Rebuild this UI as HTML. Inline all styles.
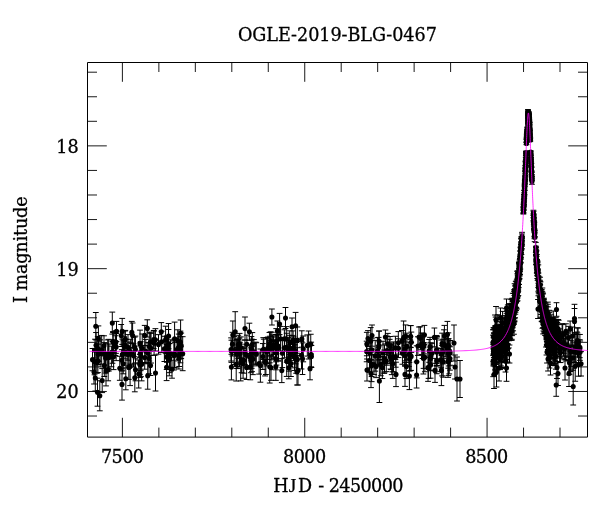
<!DOCTYPE html>
<html lang="en"><head><meta charset="utf-8"><title>OGLE-2019-BLG-0467</title>
<style>html,body{margin:0;padding:0;background:#fff}svg{display:block}</style></head>
<body><svg width="600" height="512" viewBox="0 0 600 512">
<rect width="600" height="512" fill="#fff"/>
<path d="M87.5 62.5H587.5V437.1H87.5Z" fill="none" stroke="#000" stroke-width="1"/>
<path d="M95.8 312.5V339.9M92.9 312.5H98.7M92.9 339.9H98.7M112.3 312.1V334.1M109.4 312.1H115.2M109.4 334.1H115.2M98.4 325.9V350.9M95.5 325.9H101.3M95.5 350.9H101.3M116.5 321.4V341.4M113.6 321.4H119.4M113.6 341.4H119.4M122.2 318.4V344.4M119.3 318.4H125.1M119.3 344.4H125.1M121.2 324.5V346.5M118.3 324.5H124.1M118.3 346.5H124.1M125.3 330.4V348.4M122.4 330.4H128.2M122.4 348.4H128.2M131.8 321.4V343.4M128.9 321.4H134.7M128.9 343.4H134.7M132.6 323V348.2M129.7 323H135.5M129.7 348.2H135.5M113 331.6V351.6M110.1 331.6H115.9M110.1 351.6H115.9M147.3 319.8V337M144.4 319.8H150.2M144.4 337H150.2M144.7 325.4V345.4M141.8 325.4H147.6M141.8 345.4H147.6M161.3 322.6V341M158.4 322.6H164.2M158.4 341H164.2M165.6 326.2V353.2M162.7 326.2H168.5M162.7 353.2H168.5M174.6 322.1V355.3M171.7 322.1H177.5M171.7 355.3H177.5M180.6 320V346.6M177.7 320H183.5M177.7 346.6H183.5M177.8 329.8V351.8M174.9 329.8H180.7M174.9 351.8H180.7M182.7 336.7V370.7M179.8 336.7H185.6M179.8 370.7H185.6M178.9 347V369M176 347H181.8M176 369H181.8M172 360.2V378.2M169.1 360.2H174.9M169.1 378.2H174.9M166.6 353.8V380.6M163.7 353.8H169.5M163.7 380.6H169.5M155.5 355V391M152.6 355H158.4M152.6 391H158.4M147.7 362.4V389.2M144.8 362.4H150.6M144.8 389.2H150.6M150.5 355.5V375.5M147.6 355.5H153.4M147.6 375.5H153.4M139.8 354.4V374.4M136.9 354.4H142.7M136.9 374.4H142.7M135.5 358.8V380.8M132.6 358.8H138.4M132.6 380.8H138.4M134.8 363.8V391.8M131.9 363.8H137.7M131.9 391.8H137.7M138.7 360V388M135.8 360H141.6M135.8 388H141.6M130.1 347.6V385.6M127.2 347.6H133M127.2 385.6H133M125.8 367.8V389.8M122.9 367.8H128.7M122.9 389.8H128.7M122 368.7V400.1M119.1 368.7H124.9M119.1 400.1H124.9M119.8 356.3V380.3M116.9 356.3H122.7M116.9 380.3H122.7M123.2 353.8V373.8M120.3 353.8H126.1M120.3 373.8H126.1M108.2 358.8V380.8M105.3 358.8H111.1M105.3 380.8H111.1M106 355.9V385.9M103.1 355.9H108.9M103.1 385.9H108.9M102.2 368.6V392.6M99.3 368.6H105.1M99.3 392.6H105.1M95.3 365V391M92.4 365H98.2M92.4 391H98.2M94 360V384M91.1 360H96.9M91.1 384H96.9M97.5 378.2V406.2M94.6 378.2H100.4M94.6 406.2H100.4M99.8 380.8V410.8M96.9 380.8H102.7M96.9 410.8H102.7M96.8 351.3V373.3M93.9 351.3H99.7M93.9 373.3H99.7M104.3 354.5V376.5M101.4 354.5H107.2M101.4 376.5H107.2M231.4 354.3V379.9M228.5 354.3H234.3M228.5 379.9H234.3M232.8 321V349M229.9 321H235.7M229.9 349H235.7M235.2 311.7V351.7M232.3 311.7H238.1M232.3 351.7H238.1M245 317V340.2M242.1 317H247.9M242.1 340.2H247.9M249.4 323.2V340.2M246.5 323.2H252.3M246.5 340.2H252.3M271.9 309V325M269 309H274.8M269 325H274.8M279.6 313.4V334.6M276.7 313.4H282.5M276.7 334.6H282.5M285.5 307.5V328.5M282.6 307.5H288.4M282.6 328.5H288.4M277.4 321V341M274.5 321H280.3M274.5 341H280.3M292 318V335.4M289.1 318H294.9M289.1 335.4H294.9M295.6 312.4V339.2M292.7 312.4H298.5M292.7 339.2H298.5M301.8 330.8V347.2M298.9 330.8H304.7M298.9 347.2H304.7M308.6 331V359M305.7 331H311.5M305.7 359H311.5M311.4 345.5V367.5M308.5 345.5H314.3M308.5 367.5H314.3M310 357.8V379.8M307.1 357.8H312.9M307.1 379.8H312.9M298 355.4V385M295.1 355.4H300.9M295.1 385H300.9M297 359V385M294.1 359H299.9M294.1 385H299.9M281.8 358.6V382.6M278.9 358.6H284.7M278.9 382.6H284.7M288.8 356.8V378.8M285.9 356.8H291.7M285.9 378.8H291.7M271 355.3V380.3M268.1 355.3H273.9M268.1 380.3H273.9M265.9 350.5V374.5M263 350.5H268.8M263 374.5H268.8M260.4 349V382.2M257.5 349H263.3M257.5 382.2H263.3M246.6 355.5V379.5M243.7 355.5H249.5M243.7 379.5H249.5M240.7 344.1V380.9M237.8 344.1H243.6M237.8 380.9H243.6M250.3 354.2V379.8M247.4 354.2H253.2M247.4 379.8H253.2M367 359V381M364.1 359H369.9M364.1 381H369.9M368 330.6V346.6M365.1 330.6H370.9M365.1 346.6H370.9M372 325V346.2M369.1 325H374.9M369.1 346.2H374.9M371 359.6V387.6M368.1 359.6H373.9M368.1 387.6H373.9M374 354.6V374.6M371.1 354.6H376.9M371.1 374.6H376.9M379.4 359.5V402.5M376.5 359.5H382.3M376.5 402.5H382.3M385.4 330V344M382.5 330H388.3M382.5 344H388.3M396 362.2V386.6M393.1 362.2H398.9M393.1 386.6H398.9M403.6 321V355M400.7 321H406.5M400.7 355H406.5M410.6 325.6V347.6M407.7 325.6H413.5M407.7 347.6H413.5M405 362.4V386.4M402.1 362.4H407.9M402.1 386.4H407.9M409.4 362.4V389.6M406.5 362.4H412.3M406.5 389.6H412.3M416.6 362V388M413.7 362H419.5M413.7 388H419.5M424.4 325.4V344.6M421.5 325.4H427.3M421.5 344.6H427.3M419 327V347M416.1 327H421.9M416.1 347H421.9M434.4 328V346.8M431.5 328H437.3M431.5 346.8H437.3M428.6 357.6V378.4M425.7 357.6H431.5M425.7 378.4H431.5M435 358.4V382.4M432.1 358.4H437.9M432.1 382.4H437.9M441.4 355.2V385.6M438.5 355.2H444.3M438.5 385.6H444.3M444.4 325.4V346.6M441.5 325.4H447.3M441.5 346.6H447.3M447.4 321.4V347.4M444.5 321.4H450.3M444.5 347.4H450.3M454 325V361M451.1 325H456.9M451.1 361H456.9M448.4 346.4V375.6M445.5 346.4H451.3M445.5 375.6H451.3M455 355V379M452.1 355H457.9M452.1 379H457.9M457 357V401M454.1 357H459.9M454.1 401H459.9M460 360.5V397.5M457.1 360.5H462.9M457.1 397.5H462.9M556.5 302.7V316.3M553.6 302.7H559.4M553.6 316.3H559.4M574.5 304.3V332.7M571.6 304.3H577.4M571.6 332.7H577.4M574.5 308.5V334.5M571.6 308.5H577.4M571.6 334.5H577.4M538 299.5V318.5M535.1 299.5H540.9M535.1 318.5H540.9M556.2 373.7V396.3M553.3 373.7H559.1M553.3 396.3H559.1M573.2 368V405M570.3 368H576.1M570.3 405H576.1M578.5 352.8V376.2M575.6 352.8H581.4M575.6 376.2H581.4M557 356.5V378.5M554.1 356.5H559.9M554.1 378.5H559.9M565 356V380M562.1 356H567.9M562.1 380H567.9M569 360.5V386.5M566.1 360.5H571.9M566.1 386.5H571.9M558 361.5V385.5M555.1 361.5H560.9M555.1 385.5H560.9M506.5 354.7V381.3M503.6 354.7H509.4M503.6 381.3H509.4M505.5 350V372M502.6 350H508.4M502.6 372H508.4M509.5 345V363M506.6 345H512.4M506.6 363H512.4M572.6 327V345M569.7 327H575.5M569.7 345H575.5M577.5 333V357M574.6 333H580.4M574.6 357H580.4M580.2 341V363M577.3 341H583.1M577.3 363H583.1M579.8 339.7V357.7M576.9 339.7H582.7M576.9 357.7H582.7M574 342V362M571.1 342H576.9M571.1 362H576.9M565.9 323.8V339M563 323.8H568.8M563 339H568.8M562.7 324.6V344.6M559.8 324.6H565.6M559.8 344.6H565.6M546.5 335V355M543.6 335H549.4M543.6 355H549.4M547 341V363M544.1 341H549.9M544.1 363H549.9M548 347V371M545.1 347H550.9M545.1 371H550.9M546 329V347M543.1 329H548.9M543.1 347H548.9M549.5 344V368M546.6 344H552.4M546.6 368H552.4M550.5 351V375M547.6 351H553.4M547.6 375H553.4M494 351V375M491.1 351H496.9M491.1 375H496.9M499 355V381M496.1 355H501.9M496.1 381H501.9M494 360.5V388.5M491.1 360.5H496.9M491.1 388.5H496.9M496.5 357V387M493.6 357H499.4M493.6 387H499.4M506.5 299V317M503.6 299H509.4M503.6 317H509.4M496 306.5V333.5M493.1 306.5H498.9M493.1 333.5H498.9M495 315V339M492.1 315H497.9M492.1 339H497.9M500.5 308V328M497.6 308H503.4M497.6 328H503.4M527.98 109.5V114.3M525.08 109.5H530.88M525.08 114.3H530.88M528.1 110.6V115.5M525.2 110.6H531M525.2 115.5H531M528.22 111.7V116.7M525.32 111.7H531.12M525.32 116.7H531.12M528.04 112.95V117.75M525.14 112.95H530.94M525.14 117.75H530.94M528.16 114.05V118.95M525.26 114.05H531.06M525.26 118.95H531.06M527.98 115.15V120.15M525.08 115.15H530.88M525.08 120.15H530.88M528.1 116.4V121.2M525.2 116.4H531M525.2 121.2H531M528.22 117.5V122.4M525.32 117.5H531.12M525.32 122.4H531.12M528.04 118.6V123.6M525.14 118.6H530.94M525.14 123.6H530.94M528.16 119.85V124.65M525.26 119.85H531.06M525.26 124.65H531.06M527.98 120.95V125.85M525.08 120.95H530.88M525.08 125.85H530.88M528.1 122.05V127.05M525.2 122.05H531M525.2 127.05H531M528.22 123.3V128.1M525.32 123.3H531.12M525.32 128.1H531.12M121.81 349.66V371.07M118.91 349.66H124.71M118.91 371.07H124.71M141 351.07V376.69M138.1 351.07H143.9M138.1 376.69H143.9M97.75 336.68V360.27M94.85 336.68H100.65M94.85 360.27H100.65M98.82 341.16V361.37M95.92 341.16H101.72M95.92 361.37H101.72M130.92 342.86V365M128.02 342.86H133.82M128.02 365H133.82M149.28 332.15V361M146.38 332.15H152.18M146.38 361H152.18M144.73 345.68V369.2M141.83 345.68H147.63M141.83 369.2H147.63M105.56 343.17V373.06M102.66 343.17H108.46M102.66 373.06H108.46M108.86 344.04V371.03M105.96 344.04H111.76M105.96 371.03H111.76M150.32 332.83V351.41M147.42 332.83H153.22M147.42 351.41H153.22M97.89 349.42V372.56M94.99 349.42H100.79M94.99 372.56H100.79M154.08 331V355.27M151.18 331H156.98M151.18 355.27H156.98M133.51 343.8V367.09M130.61 343.8H136.41M130.61 367.09H136.41M164.39 336.29V361.51M161.49 336.29H167.29M161.49 361.51H167.29M140.03 330.13V357.63M137.13 330.13H142.93M137.13 357.63H142.93M158.51 334.65V354.14M155.61 334.65H161.41M155.61 354.14H161.41M130.34 339.28V364.06M127.44 339.28H133.24M127.44 364.06H133.24M96.05 332.54V358.11M93.15 332.54H98.95M93.15 358.11H98.95M161.69 331.24V352.41M158.79 331.24H164.59M158.79 352.41H164.59M155.42 328.66V351M152.52 328.66H158.32M152.52 351H158.32M168.52 329.51V357.7M165.62 329.51H171.42M165.62 357.7H171.42M135.41 336.1V362.85M132.51 336.1H138.31M132.51 362.85H138.31M151.07 333.33V363.03M148.17 333.33H153.97M148.17 363.03H153.97M166.88 335.99V362.3M163.98 335.99H169.78M163.98 362.3H169.78M94.54 348.43V374.79M91.64 348.43H97.44M91.64 374.79H97.44M107.71 339.91V368.37M104.81 339.91H110.61M104.81 368.37H110.61M104.21 342.67V365.09M101.31 342.67H107.11M101.31 365.09H107.11M127.88 341.98V366.82M124.98 341.98H130.78M124.98 366.82H130.78M142.22 334.01V362.51M139.32 334.01H145.12M139.32 362.51H145.12M166.64 344.55V369.48M163.74 344.55H169.54M163.74 369.48H169.54M124.97 331.04V358.85M122.07 331.04H127.87M122.07 358.85H127.87M179.17 344.01V366.48M176.27 344.01H182.07M176.27 366.48H182.07M113.62 343.91V369.61M110.72 343.91H116.52M110.72 369.61H116.52M145.82 339.36V363.29M142.92 339.36H148.72M142.92 363.29H148.72M125.92 339.46V365.25M123.02 339.46H128.82M123.02 365.25H128.82M178.76 334.1V359.38M175.86 334.1H181.66M175.86 359.38H181.66M153.7 330.47V348.59M150.8 330.47H156.6M150.8 348.59H156.6M173.91 340.89V369.98M171.01 340.89H176.81M171.01 369.98H176.81M128.01 334.61V360.21M125.11 334.61H130.91M125.11 360.21H130.91M98.13 344.13V364.54M95.23 344.13H101.03M95.23 364.54H101.03M111.39 346.17V366.74M108.49 346.17H114.29M108.49 366.74H114.29M92.52 348.5V370.75M89.62 348.5H95.42M89.62 370.75H95.42M101.68 335.45V364.19M98.78 335.45H104.58M98.78 364.19H104.58M148.07 342.63V363.8M145.17 342.63H150.97M145.17 363.8H150.97M115.33 335.75V355.47M112.43 335.75H118.23M112.43 355.47H118.23M169.33 343.47V375.83M166.43 343.47H172.23M166.43 375.83H172.23M134.67 337.09V356.78M131.77 337.09H137.57M131.77 356.78H137.57M123.51 340.72V362.99M120.61 340.72H126.41M120.61 362.99H126.41M167.51 337.5V367.72M164.61 337.5H170.41M164.61 367.72H170.41M140.31 342.76V363.93M137.41 342.76H143.21M137.41 363.93H143.21M141.66 347.54V380.85M138.76 347.54H144.56M138.76 380.85H144.56M170.63 339.83V367.35M167.73 339.83H173.53M167.73 367.35H173.53M116.13 333.59V360.64M113.23 333.59H119.03M113.23 360.64H119.03M140.7 341.64V370.67M137.8 341.64H143.6M137.8 370.67H143.6M122.33 339.12V370.2M119.43 339.12H125.23M119.43 370.2H125.23M169.66 343.65V372.65M166.76 343.65H172.56M166.76 372.65H172.56M113.02 332.46V350.6M110.12 332.46H115.92M110.12 350.6H115.92M95.03 339.21V361.39M92.13 339.21H97.93M92.13 361.39H97.93M115.96 330.72V353.33M113.06 330.72H118.86M113.06 353.33H118.86M177.3 337.93V360.91M174.4 337.93H180.2M174.4 360.91H180.2M112.45 341.58V363.26M109.55 341.58H115.35M109.55 363.26H115.35M148.98 342.86V373.81M146.08 342.86H151.88M146.08 373.81H151.88M168.56 323.53V348.71M165.66 323.53H171.46M165.66 348.71H171.46M100.17 339.85V366.92M97.27 339.85H103.07M97.27 366.92H103.07M174.83 342.32V367.59M171.93 342.32H177.73M171.93 367.59H177.73M108.66 339.34V368.09M105.76 339.34H111.56M105.76 368.09H111.56M180.43 331.12V353.21M177.53 331.12H183.33M177.53 353.21H183.33M128.83 355.56V379.39M125.93 355.56H131.73M125.93 379.39H131.73M104 335.79V355.85M101.1 335.79H106.9M101.1 355.85H106.9M174.39 338.97V367.96M171.49 338.97H177.29M171.49 367.96H177.29M181.22 333.05V358.59M178.32 333.05H184.12M178.32 358.59H184.12M124.21 336.75V355.35M121.31 336.75H127.11M121.31 355.35H127.11M180.37 336.6V362.82M177.47 336.6H183.27M177.47 362.82H183.27M140.16 346.03V377.43M137.26 346.03H143.06M137.26 377.43H143.06M167.27 336.39V357.25M164.37 336.39H170.17M164.37 357.25H170.17M251.4 336.59V362.02M248.5 336.59H254.3M248.5 362.02H254.3M252.01 346.3V371.64M249.11 346.3H254.91M249.11 371.64H254.91M241.62 346.78V372.73M238.72 346.78H244.52M238.72 372.73H244.52M278.25 331.96V360.23M275.35 331.96H281.15M275.35 360.23H281.15M265.07 348.59V375.94M262.17 348.59H267.97M262.17 375.94H267.97M273.4 335.95V354.49M270.5 335.95H276.3M270.5 354.49H276.3M266.65 337.62V365.94M263.75 337.62H269.55M263.75 365.94H269.55M244.96 339.9V364.61M242.06 339.9H247.86M242.06 364.61H247.86M289.74 330.85V354.3M286.84 330.85H292.64M286.84 354.3H292.64M275.99 334.43V361.82M273.09 334.43H278.89M273.09 361.82H278.89M239.59 333.4V354.52M236.69 333.4H242.49M236.69 354.52H242.49M293.55 336.24V360.63M290.65 336.24H296.45M290.65 360.63H296.45M276.5 340.62V365.1M273.6 340.62H279.4M273.6 365.1H279.4M280.61 326.42V351M277.71 326.42H283.51M277.71 351H283.51M267.64 338.38V363.53M264.74 338.38H270.54M264.74 363.53H270.54M269.72 350.39V383.04M266.82 350.39H272.62M266.82 383.04H272.62M307.32 334.91V356.08M304.42 334.91H310.22M304.42 356.08H310.22M276.32 334.48V354.16M273.42 334.48H279.22M273.42 354.16H279.22M240.85 336.91V358.21M237.95 336.91H243.75M237.95 358.21H243.75M236.92 339.33V366.39M234.02 339.33H239.82M234.02 366.39H239.82M294.5 342.13V370.45M291.6 342.13H297.4M291.6 370.45H297.4M284.48 337.57V357.82M281.58 337.57H287.38M281.58 357.82H287.38M302.51 342.87V374.52M299.61 342.87H305.41M299.61 374.52H305.41M263.26 337.67V362.1M260.36 337.67H266.16M260.36 362.1H266.16M311.18 342.18V366.83M308.28 342.18H314.08M308.28 366.83H314.08M272.76 334.88V356.99M269.86 334.88H275.66M269.86 356.99H275.66M246.86 335.11V353.53M243.96 335.11H249.76M243.96 353.53H249.76M275.88 353.23V380.37M272.98 353.23H278.78M272.98 380.37H278.78M232.46 332.31V355.97M229.56 332.31H235.36M229.56 355.97H235.36M236.21 347.6V381.02M233.31 347.6H239.11M233.31 381.02H239.11M294.86 344.78V367.82M291.96 344.78H297.76M291.96 367.82H297.76M234.21 336.61V364.43M231.31 336.61H237.11M231.31 364.43H237.11M252.91 343.4V374.63M250.01 343.4H255.81M250.01 374.63H255.81M297.34 347.71V371.21M294.44 347.71H300.24M294.44 371.21H300.24M243.1 348.59V378.27M240.2 348.59H246M240.2 378.27H246M238.25 335.26V354.14M235.35 335.26H241.15M235.35 354.14H241.15M286.74 333.23V362.23M283.84 333.23H289.64M283.84 362.23H289.64M282.39 338.92V367.58M279.49 338.92H285.29M279.49 367.58H285.29M237.78 339.09V368.58M234.88 339.09H240.68M234.88 368.58H240.68M267.76 337.05V359.56M264.86 337.05H270.66M264.86 359.56H270.66M275.8 347.96V369.82M272.9 347.96H278.7M272.9 369.82H278.7M273.68 337.03V358.33M270.78 337.03H276.58M270.78 358.33H276.58M239.87 342.31V364.08M236.97 342.31H242.77M236.97 364.08H242.77M256.27 342.72V365.86M253.37 342.72H259.17M253.37 365.86H259.17M292.52 337.93V358.66M289.62 337.93H295.42M289.62 358.66H295.42M259.11 352.85V374.1M256.21 352.85H262.01M256.21 374.1H262.01M251.29 340.18V365.93M248.39 340.18H254.19M248.39 365.93H254.19M246.35 344.8V365.81M243.45 344.8H249.25M243.45 365.81H249.25M297.33 326.97V353.28M294.43 326.97H300.23M294.43 353.28H300.23M262.84 343.56V369.47M259.94 343.56H265.74M259.94 369.47H265.74M286.71 345.66V376.42M283.81 345.66H289.61M283.81 376.42H289.61M288.24 337.24V363.42M285.34 337.24H291.14M285.34 363.42H291.14M263.78 339.18V359.54M260.88 339.18H266.68M260.88 359.54H266.68M236.73 340.2V368.39M233.83 340.2H239.63M233.83 368.39H239.63M251.7 339.1V368.31M248.8 339.1H254.6M248.8 368.31H254.6M301.51 341.42V368.98M298.61 341.42H304.41M298.61 368.98H304.41M253.84 339.59V364.07M250.94 339.59H256.74M250.94 364.07H256.74M243.76 347.26V373.16M240.86 347.26H246.66M240.86 373.16H246.66M252.32 332.58V356.71M249.42 332.58H255.22M249.42 356.71H255.22M250.8 347.88V372.72M247.9 347.88H253.7M247.9 372.72H253.7M231.09 337.86V361.03M228.19 337.86H233.99M228.19 361.03H233.99M269.45 332.49V356.11M266.55 332.49H272.35M266.55 356.11H272.35M231.4 340.19V362.36M228.5 340.19H234.3M228.5 362.36H234.3M238.27 339.35V358.45M235.37 339.35H241.17M235.37 358.45H241.17M255.64 342.15V364.29M252.74 342.15H258.54M252.74 364.29H258.54M278.43 335.18V361.18M275.53 335.18H281.33M275.53 361.18H281.33M289 346.91V371.14M286.1 346.91H291.9M286.1 371.14H291.9M310.76 334.25V354.04M307.86 334.25H313.66M307.86 354.04H313.66M289.66 335.31V363.54M286.76 335.31H292.56M286.76 363.54H292.56M303.25 336.01V361.82M300.35 336.01H306.15M300.35 361.82H306.15M290.44 340.84V366.38M287.54 340.84H293.34M287.54 366.38H293.34M271.85 332.28V359.79M268.95 332.28H274.75M268.95 359.79H274.75M296.18 342.5V373.25M293.28 342.5H299.08M293.28 373.25H299.08M286.31 326.64V351.27M283.41 326.64H289.21M283.41 351.27H289.21M249.63 344.81V369.09M246.73 344.81H252.53M246.73 369.09H252.53M239.5 338.06V366.94M236.6 338.06H242.4M236.6 366.94H242.4M276.24 328.63V353.52M273.34 328.63H279.14M273.34 353.52H279.14M270.63 331.83V349.59M267.73 331.83H273.53M267.73 349.59H273.53M295.61 338.65V363.87M292.71 338.65H298.51M292.71 363.87H298.51M284.4 329.79V347.95M281.5 329.79H287.3M281.5 347.95H287.3M290.68 340.24V362.44M287.78 340.24H293.58M287.78 362.44H293.58M290.08 344.46V366.66M287.18 344.46H292.98M287.18 366.66H292.98M290.93 350.72V376.51M288.03 350.72H293.83M288.03 376.51H293.83M269.8 336.24V362.8M266.9 336.24H272.7M266.9 362.8H272.7M293.12 330.9V349.35M290.22 330.9H296.02M290.22 349.35H296.02M379.1 330.96V351.41M376.2 330.96H382M376.2 351.41H382M430.05 337.33V356.01M427.15 337.33H432.95M427.15 356.01H432.95M371.69 352.05V376.55M368.79 352.05H374.59M368.79 376.55H374.59M423.96 334.88V356.42M421.06 334.88H426.86M421.06 356.42H426.86M410.66 325.55V347.41M407.76 325.55H413.56M407.76 347.41H413.56M406.37 354.51V378.55M403.47 354.51H409.27M403.47 378.55H409.27M450.13 340.57V365.24M447.23 340.57H453.03M447.23 365.24H453.03M436.6 335.48V365.41M433.7 335.48H439.5M433.7 365.41H439.5M404.93 335.65V365.34M402.03 335.65H407.83M402.03 365.34H407.83M384.52 344.99V372.19M381.62 344.99H387.42M381.62 372.19H387.42M378.62 337.38V357.48M375.72 337.38H381.52M375.72 357.48H381.52M436.63 336.57V363.45M433.73 336.57H439.53M433.73 363.45H439.53M386.28 350.67V371.63M383.38 350.67H389.18M383.38 371.63H389.18M366.81 332.34V355.77M363.91 332.34H369.71M363.91 355.77H369.71M405.04 338.09V360.85M402.14 338.09H407.94M402.14 360.85H407.94M393.52 341.93V371.83M390.62 341.93H396.42M390.62 371.83H396.42M366.65 341.19V361.76M363.75 341.19H369.55M363.75 361.76H369.55M445.71 335.11V356.68M442.81 335.11H448.61M442.81 356.68H448.61M398.32 331.59V354.15M395.42 331.59H401.22M395.42 354.15H401.22M390.03 336.55V355.53M387.13 336.55H392.93M387.13 355.53H392.93M375.2 340.4V371.17M372.3 340.4H378.1M372.3 371.17H378.1M387.82 333.39V354.38M384.92 333.39H390.72M384.92 354.38H390.72M410.19 339.68V370.54M407.29 339.68H413.09M407.29 370.54H413.09M442.1 345.47V375.89M439.2 345.47H445M439.2 375.89H445M420.44 326.77V349.8M417.54 326.77H423.34M417.54 349.8H423.34M428.02 353.91V381.35M425.12 353.91H430.92M425.12 381.35H430.92M430.85 342.75V370.28M427.95 342.75H433.75M427.95 370.28H433.75M390.97 347.79V369.6M388.07 347.79H393.87M388.07 369.6H393.87M406.87 333.13V359.67M403.97 333.13H409.77M403.97 359.67H409.77M449.97 346.79V370.14M447.07 346.79H452.87M447.07 370.14H452.87M422.59 335.6V358.51M419.69 335.6H425.49M419.69 358.51H425.49M380.81 352.63V375.78M377.91 352.63H383.71M377.91 375.78H383.71M384.27 349.96V373.39M381.37 349.96H387.17M381.37 373.39H387.17M443.99 329.81V358.69M441.09 329.81H446.89M441.09 358.69H446.89M404.97 345.32V366.22M402.07 345.32H407.87M402.07 366.22H407.87M395.74 346.15V367.21M392.84 346.15H398.64M392.84 367.21H398.64M386.95 336.11V365.18M384.05 336.11H389.85M384.05 365.18H389.85M430.6 351.77V378.2M427.7 351.77H433.5M427.7 378.2H433.5M401.89 330.51V351.83M398.99 330.51H404.79M398.99 351.83H404.79M371.81 338.78V360.86M368.91 338.78H374.71M368.91 360.86H374.71M449.24 345.86V373.91M446.34 345.86H452.14M446.34 373.91H452.14M440.27 348.54V371.64M437.37 348.54H443.17M437.37 371.64H443.17M389.67 339.34V363.6M386.77 339.34H392.57M386.77 363.6H392.57M448.06 346.22V377.35M445.16 346.22H450.96M445.16 377.35H450.96M441.13 340V367.73M438.23 340H444.03M438.23 367.73H444.03M443.08 339.25V363.83M440.18 339.25H445.98M440.18 363.83H445.98M416.7 345.82V377.92M413.8 345.82H419.6M413.8 377.92H419.6M437.09 336.81V365.65M434.19 336.81H439.99M434.19 365.65H439.99M449.63 340.68V361.59M446.73 340.68H452.53M446.73 361.59H452.53M411.16 342.45V370.39M408.26 342.45H414.06M408.26 370.39H414.06M447 334.81V362.04M444.1 334.81H449.9M444.1 362.04H449.9M405.6 324.94V347.65M402.7 324.94H408.5M402.7 347.65H408.5M369.88 337.96V367.9M366.98 337.96H372.78M366.98 367.9H372.78M421.69 333.07V354.45M418.79 333.07H424.59M418.79 354.45H424.59M377.44 337.68V364.73M374.54 337.68H380.34M374.54 364.73H380.34M376.09 355.24V377.63M373.19 355.24H378.99M373.19 377.63H378.99M411.34 332.09V352.37M408.44 332.09H414.24M408.44 352.37H414.24M417.89 336.81V355.38M414.99 336.81H420.79M414.99 355.38H420.79M392.28 344V371.81M389.38 344H395.18M389.38 371.81H395.18M442.06 333.17V353.9M439.16 333.17H444.96M439.16 353.9H444.96M448.63 338.62V365.97M445.73 338.62H451.53M445.73 365.97H451.53M392.78 348.97V378.39M389.88 348.97H395.68M389.88 378.39H395.68M402.41 341.85V364.24M399.51 341.85H405.31M399.51 364.24H405.31M423.56 347.76V368.36M420.66 347.76H426.46M420.66 368.36H426.46M395.4 336.25V359.59M392.5 336.25H398.3M392.5 359.59H398.3M424.86 342.94V371.75M421.96 342.94H427.76M421.96 371.75H427.76M409.67 347.07V371.15M406.77 347.07H412.57M406.77 371.15H412.57M436.61 338.15V366.1M433.71 338.15H439.51M433.71 366.1H439.51M391.72 342.96V374.63M388.82 342.96H394.62M388.82 374.63H394.62M408.89 342.01V366.44M405.99 342.01H411.79M405.99 366.44H411.79M423.38 342.49V373.99M420.48 342.49H426.28M420.48 373.99H426.28M379.02 331.16V360.09M376.12 331.16H381.92M376.12 360.09H381.92M378.63 345.68V366.16M375.73 345.68H381.53M375.73 366.16H381.53M371.64 349.22V381.65M368.74 349.22H374.54M368.74 381.65H374.54M429.15 339.47V362.31M426.25 339.47H432.05M426.25 362.31H432.05M382.36 356.47V378.54M379.46 356.47H385.26M379.46 378.54H385.26M423.31 333.28V355.57M420.41 333.28H426.21M420.41 355.57H426.21M398.47 338.8V357.58M395.57 338.8H401.37M395.57 357.58H401.37M390.42 344.9V369.06M387.52 344.9H393.32M387.52 369.06H393.32M448.2 339.24V368.23M445.3 339.24H451.1M445.3 368.23H451.1M436.78 347.88V373.73M433.88 347.88H439.68M433.88 373.73H439.68M370.71 327.58V355.01M367.81 327.58H373.61M367.81 355.01H373.61M383 341.26V364.87M380.1 341.26H385.9M380.1 364.87H385.9M443.19 346.5V377.19M440.29 346.5H446.09M440.29 377.19H446.09M432.05 343.34V363.29M429.15 343.34H434.95M429.15 363.29H434.95M369.48 348.66V372.34M366.58 348.66H372.38M366.58 372.34H372.38M430.39 347.21V370.79M427.49 347.21H433.29M427.49 370.79H433.29M448.38 332.87V357.89M445.48 332.87H451.28M445.48 357.89H451.28M493.22 329.93V354.1M490.32 329.93H496.12M490.32 354.1H496.12M493.2 344.61V376.66M490.3 344.61H496.1M490.3 376.66H496.1M493.08 335.14V361.84M490.18 335.14H495.98M490.18 361.84H495.98M493.15 329.4V355.56M490.25 329.4H496.05M490.25 355.56H496.05M493.57 343.75V363.37M490.67 343.75H496.47M490.67 363.37H496.47M493.59 342.73V365.86M490.69 342.73H496.49M490.69 365.86H496.49M493.55 335.87V364.55M490.65 335.87H496.45M490.65 364.55H496.45M493.51 337.75V365.9M490.61 337.75H496.41M490.61 365.9H496.41M493.53 327.57V346.43M490.63 327.57H496.43M490.63 346.43H496.43M493.88 333.28V357.53M490.98 333.28H496.78M490.98 357.53H496.78M493.82 332.85V351.54M490.92 332.85H496.72M490.92 351.54H496.72M494.18 335.81V360M491.28 335.81H497.08M491.28 360H497.08M494.28 328.56V350.44M491.38 328.56H497.18M491.38 350.44H497.18M494.26 335.05V361.22M491.36 335.05H497.16M491.36 361.22H497.16M494.66 333.19V354.17M491.76 333.19H497.56M491.76 354.17H497.56M494.57 341.78V364.19M491.67 341.78H497.47M491.67 364.19H497.47M494.93 343.18V369.93M492.03 343.18H497.83M492.03 369.93H497.83M494.95 348.6V374.12M492.05 348.6H497.85M492.05 374.12H497.85M495.06 325.92V351.71M492.16 325.92H497.96M492.16 351.71H497.96M495.27 333.38V356.81M492.37 333.38H498.17M492.37 356.81H498.17M495.39 346.18V366.59M492.49 346.18H498.29M492.49 366.59H498.29M495.63 317.07V338.87M492.73 317.07H498.53M492.73 338.87H498.53M495.76 334.36V358.43M492.86 334.36H498.66M492.86 358.43H498.66M496.03 334.72V362.09M493.13 334.72H498.93M493.13 362.09H498.93M496.14 341.25V368.12M493.24 341.25H499.04M493.24 368.12H499.04M496.02 340.85V364.44M493.12 340.85H498.92M493.12 364.44H498.92M496.01 334.45V359.58M493.11 334.45H498.91M493.11 359.58H498.91M496.09 340.95V362.5M493.19 340.95H498.99M493.19 362.5H498.99M495.99 328.86V348.2M493.09 328.86H498.89M493.09 348.2H498.89M496.36 344.11V369.99M493.46 344.11H499.26M493.46 369.99H499.26M496.43 319.55V342.47M493.53 319.55H499.33M493.53 342.47H499.33M496.38 340.89V366.57M493.48 340.89H499.28M493.48 366.57H499.28M496.83 327.91V348.45M493.93 327.91H499.73M493.93 348.45H499.73M496.87 337.38V359.63M493.97 337.38H499.77M493.97 359.63H499.77M496.81 325.42V351.73M493.91 325.42H499.71M493.91 351.73H499.71M496.88 340.22V363.63M493.98 340.22H499.78M493.98 363.63H499.78M496.75 334.61V352.8M493.85 334.61H499.65M493.85 352.8H499.65M497.51 324.75V351.13M494.61 324.75H500.41M494.61 351.13H500.41M497.52 332.77V356.99M494.62 332.77H500.42M494.62 356.99H500.42M497.82 332.67V357.71M494.92 332.67H500.72M494.92 357.71H500.72M497.87 328.5V348.87M494.97 328.5H500.77M494.97 348.87H500.77M497.9 329.66V357.65M495 329.66H500.8M495 357.65H500.8M497.83 314.78V339.93M494.93 314.78H500.73M494.93 339.93H500.73M497.84 335V354.64M494.94 335H500.74M494.94 354.64H500.74M499 327.89V352.99M496.1 327.89H501.9M496.1 352.99H501.9M499.02 326.6V353.48M496.12 326.6H501.92M496.12 353.48H501.92M499.37 327.06V349.29M496.47 327.06H502.27M496.47 349.29H502.27M499.36 329.78V347.67M496.46 329.78H502.26M496.46 347.67H502.26M499.42 337.23V357.5M496.52 337.23H502.32M496.52 357.5H502.32M500 336.64V361.78M497.1 336.64H502.9M497.1 361.78H502.9M500.12 347.88V369.58M497.22 347.88H503.02M497.22 369.58H503.02M500.1 333.91V358.34M497.2 333.91H503M497.2 358.34H503M500.47 328.49V350.04M497.57 328.49H503.37M497.57 350.04H503.37M500.42 335.96V360.25M497.52 335.96H503.32M497.52 360.25H503.32M500.39 330.92V353.78M497.49 330.92H503.29M497.49 353.78H503.29M500.44 317.35V341.67M497.54 317.35H503.34M497.54 341.67H503.34M500.74 321.38V339M497.84 321.38H503.64M497.84 339H503.64M500.8 337.2V361.82M497.9 337.2H503.7M497.9 361.82H503.7M500.73 333.99V359.47M497.83 333.99H503.63M497.83 359.47H503.63M500.74 328.37V351.28M497.84 328.37H503.64M497.84 351.28H503.64M500.74 315.68V336.25M497.84 315.68H503.64M497.84 336.25H503.64M501.1 338.77V366M498.2 338.77H504M498.2 366H504M501.11 336.14V356.02M498.21 336.14H504.01M498.21 356.02H504.01M501.24 324.44V349.76M498.34 324.44H504.14M498.34 349.76H504.14M501.47 344.5V368.58M498.57 344.5H504.37M498.57 368.58H504.37M501.58 339.78V362M498.68 339.78H504.48M498.68 362H504.48M501.59 345.71V367.36M498.69 345.71H504.49M498.69 367.36H504.49M501.86 329.01V349.87M498.96 329.01H504.76M498.96 349.87H504.76M501.83 340.27V361.45M498.93 340.27H504.73M498.93 361.45H504.73M501.85 337.87V367.47M498.95 337.87H504.75M498.95 367.47H504.75M501.85 322.66V347.5M498.95 322.66H504.75M498.95 347.5H504.75M501.84 318.13V337.64M498.94 318.13H504.74M498.94 337.64H504.74M502.66 323.79V350.11M499.76 323.79H505.56M499.76 350.11H505.56M502.59 311.38V333.54M499.69 311.38H505.49M499.69 333.54H505.49M502.61 325.14V345.96M499.71 325.14H505.51M499.71 345.96H505.51M502.61 334.7V353.77M499.71 334.7H505.51M499.71 353.77H505.51M502.59 333.21V358.29M499.69 333.21H505.49M499.69 358.29H505.49M502.71 326.12V346.39M499.81 326.12H505.61M499.81 346.39H505.61M504.41 336.16V357.93M501.51 336.16H507.31M501.51 357.93H507.31M504.48 321.36V338.15M501.58 321.36H507.38M501.58 338.15H507.38M504.85 331.47V349.39M501.95 331.47H507.75M501.95 349.39H507.75M504.74 323.82V344.22M501.84 323.82H507.64M501.84 344.22H507.64M504.78 327.9V351.53M501.88 327.9H507.68M501.88 351.53H507.68M504.83 328.55V351.08M501.93 328.55H507.73M501.93 351.08H507.73M504.76 333.57V362.62M501.86 333.57H507.66M501.86 362.62H507.66M504.78 326.75V350.78M501.88 326.75H507.68M501.88 350.78H507.68M505.6 324.58V351.88M502.7 324.58H508.5M502.7 351.88H508.5M505.48 330.96V355.33M502.58 330.96H508.38M502.58 355.33H508.38M505.56 308.68V329.06M502.66 308.68H508.46M502.66 329.06H508.46M505.55 321.89V338.26M502.65 321.89H508.45M502.65 338.26H508.45M505.48 326.92V344.23M502.58 326.92H508.38M502.58 344.23H508.38M505.84 323.72V346.2M502.94 323.72H508.74M502.94 346.2H508.74M505.99 324.06V342.21M503.09 324.06H508.89M503.09 342.21H508.89M505.87 315.78V337.78M502.97 315.78H508.77M502.97 337.78H508.77M506.28 319.25V335.92M503.38 319.25H509.18M503.38 335.92H509.18M506.3 335.54V359.44M503.4 335.54H509.2M503.4 359.44H509.2M506.29 323.16V343.65M503.39 323.16H509.19M503.39 343.65H509.19M506.57 317.42V343.45M503.67 317.42H509.47M503.67 343.45H509.47M506.6 317.77V340.15M503.7 317.77H509.5M503.7 340.15H509.5M506.58 333.69V362.86M503.68 333.69H509.48M503.68 362.86H509.48M506.6 313.28V329.07M503.7 313.28H509.5M503.7 329.07H509.5M506.67 315.3V340.05M503.77 315.3H509.57M503.77 340.05H509.57M507.3 310.54V330.31M504.4 310.54H510.2M504.4 330.31H510.2M507.32 334.87V355.37M504.42 334.87H510.22M504.42 355.37H510.22M507.32 310.91V334.76M504.42 310.91H510.22M504.42 334.76H510.22M507.71 320.86V343.67M504.81 320.86H510.61M504.81 343.67H510.61M507.77 335.83V362.07M504.87 335.83H510.67M504.87 362.07H510.67M507.82 304.9V325.55M504.92 304.9H510.72M504.92 325.55H510.72M507.8 323.27V344.44M504.9 323.27H510.7M504.9 344.44H510.7M507.77 315.63V333.28M504.87 315.63H510.67M504.87 333.28H510.67M508.11 318.28V335.9M505.21 318.28H511.01M505.21 335.9H511.01M508.03 329.51V348.69M505.13 329.51H510.93M505.13 348.69H510.93M508.76 323.88V347.94M505.86 323.88H511.66M505.86 347.94H511.66M508.85 315.85V332.09M505.95 315.85H511.75M505.95 332.09H511.75M509.15 303.65V326.48M506.25 303.65H512.05M506.25 326.48H512.05M509.2 308V329.74M506.3 308H512.1M506.3 329.74H512.1M509.23 304.29V321.86M506.33 304.29H512.13M506.33 321.86H512.13M509.15 315.58V340.72M506.25 315.58H512.05M506.25 340.72H512.05M509.98 316.24V338.22M507.08 316.24H512.88M507.08 338.22H512.88M509.89 316.73V340.1M506.99 316.73H512.79M506.99 340.1H512.79M510.26 317.3V335.68M507.36 317.3H513.16M507.36 335.68H513.16M510.27 315.09V338.17M507.37 315.09H513.17M507.37 338.17H513.17M510.36 311.76V334.31M507.46 311.76H513.26M507.46 334.31H513.26M510.31 307.09V328.56M507.41 307.09H513.21M507.41 328.56H513.21M510.64 312.77V335.55M507.74 312.77H513.54M507.74 335.55H513.54M510.63 311.92V329.09M507.73 311.92H513.53M507.73 329.09H513.53M511.33 304.66V318.8M508.43 304.66H514.23M508.43 318.8H514.23M511.34 314.75V330.26M508.44 314.75H514.24M508.44 330.26H514.24M511.38 299.58V314.46M508.48 299.58H514.28M508.48 314.46H514.28M511.38 312.21V330.69M508.48 312.21H514.28M508.48 330.69H514.28M511.76 314.52V339.32M508.86 314.52H514.66M508.86 339.32H514.66M511.7 322.26V340.39M508.8 322.26H514.6M508.8 340.39H514.6M511.82 308.04V332.08M508.92 308.04H514.72M508.92 332.08H514.72M511.76 303.18V317.99M508.86 303.18H514.66M508.86 317.99H514.66M512.1 298.65V312.53M509.2 298.65H515M509.2 312.53H515M512.18 319.34V335.63M509.28 319.34H515.08M509.28 335.63H515.08M512.47 301.03V323.45M509.57 301.03H515.37M509.57 323.45H515.37M512.5 303.83V326.6M509.6 303.83H515.4M509.6 326.6H515.4M512.42 298.22V316.49M509.52 298.22H515.32M509.52 316.49H515.32M512.4 301.17V319.88M509.5 301.17H515.3M509.5 319.88H515.3M512.87 305.55V323.9M509.97 305.55H515.77M509.97 323.9H515.77M512.89 301.06V319.73M509.99 301.06H515.79M509.99 319.73H515.79M512.78 293.29V307.53M509.88 293.29H515.68M509.88 307.53H515.68M512.79 310.04V327.76M509.89 310.04H515.69M509.89 327.76H515.69M512.88 309.17V325.4M509.98 309.17H515.78M509.98 325.4H515.78M513.22 301.57V318.26M510.32 301.57H516.12M510.32 318.26H516.12M513.16 307.29V330.82M510.26 307.29H516.06M510.26 330.82H516.06M513.29 303.85V319.32M510.39 303.85H516.19M510.39 319.32H516.19M513.23 306.81V322.67M510.33 306.81H516.13M510.33 322.67H516.13M513.56 307.47V323.86M510.66 307.47H516.46M510.66 323.86H516.46M513.6 306.45V324.46M510.7 306.45H516.5M510.7 324.46H516.5M513.5 306.13V324.2M510.6 306.13H516.4M510.6 324.2H516.4M513.62 299.31V318.07M510.72 299.31H516.52M510.72 318.07H516.52M513.9 293.43V311.78M511 293.43H516.8M511 311.78H516.8M513.86 301.2V321.02M510.96 301.2H516.76M510.96 321.02H516.76M513.95 312.71V334.22M511.05 312.71H516.85M511.05 334.22H516.85M514.36 295.59V312.01M511.46 295.59H517.26M511.46 312.01H517.26M514.27 291.15V308.12M511.37 291.15H517.17M511.37 308.12H517.17M514.24 289.56V306.87M511.34 289.56H517.14M511.34 306.87H517.14M514.32 305.5V322.07M511.42 305.5H517.22M511.42 322.07H517.22M514.29 291.6V306.91M511.39 291.6H517.19M511.39 306.91H517.19M514.33 299.86V321.47M511.43 299.86H517.23M511.43 321.47H517.23M514.71 290.42V310.04M511.81 290.42H517.61M511.81 310.04H517.61M514.59 302.31V320.93M511.69 302.31H517.49M511.69 320.93H517.49M514.61 300.67V318.71M511.71 300.67H517.51M511.71 318.71H517.51M514.6 283.72V298.85M511.7 283.72H517.5M511.7 298.85H517.5M515.03 288.73V304.38M512.13 288.73H517.93M512.13 304.38H517.93M515.02 285.94V304.31M512.12 285.94H517.92M512.12 304.31H517.92M514.98 292.76V311.16M512.08 292.76H517.88M512.08 311.16H517.88M514.97 289.06V308.43M512.07 289.06H517.87M512.07 308.43H517.87M515.01 300.71V317.68M512.11 300.71H517.91M512.11 317.68H517.91M515.46 294.6V312.28M512.56 294.6H518.36M512.56 312.28H518.36M515.42 292.07V306.62M512.52 292.07H518.32M512.52 306.62H518.32M515.38 290.99V310.57M512.48 290.99H518.28M512.48 310.57H518.28M515.47 293.09V309.09M512.57 293.09H518.37M512.57 309.09H518.37M515.34 294.98V314.19M512.44 294.98H518.24M512.44 314.19H518.24M515.8 289.62V307.75M512.9 289.62H518.7M512.9 307.75H518.7M515.7 285.92V303.11M512.8 285.92H518.6M512.8 303.11H518.6M515.75 281.31V299.03M512.85 281.31H518.65M512.85 299.03H518.65M515.8 286.08V300.86M512.9 286.08H518.7M512.9 300.86H518.7M515.81 284.76V297.59M512.91 284.76H518.71M512.91 297.59H518.71M515.79 285.05V301.2M512.89 285.05H518.69M512.89 301.2H518.69M516.1 287.24V302.34M513.2 287.24H519M513.2 302.34H519M516.15 287.12V299.25M513.25 287.12H519.05M513.25 299.25H519.05M516.19 292.31V307.55M513.29 292.31H519.09M513.29 307.55H519.09M516.06 293.6V310.54M513.16 293.6H518.96M513.16 310.54H518.96M516.49 283.03V298.64M513.59 283.03H519.39M513.59 298.64H519.39M516.44 294.98V308.17M513.54 294.98H519.34M513.54 308.17H519.34M516.46 281.18V297.85M513.56 281.18H519.36M513.56 297.85H519.36M516.83 282.18V294.09M513.93 282.18H519.73M513.93 294.09H519.73M516.92 284.06V301.59M514.02 284.06H519.82M514.02 301.59H519.82M516.87 281.08V297.21M513.97 281.08H519.77M513.97 297.21H519.77M516.88 290.51V309.04M513.98 290.51H519.78M513.98 309.04H519.78M516.8 279.28V294.45M513.9 279.28H519.7M513.9 294.45H519.7M517.25 284.39V298.52M514.35 284.39H520.15M514.35 298.52H520.15M517.27 283.85V298.28M514.37 283.85H520.17M514.37 298.28H520.17M517.23 271.39V285.26M514.33 271.39H520.13M514.33 285.26H520.13M517.18 284.97V297.36M514.28 284.97H520.08M514.28 297.36H520.08M517.24 282.72V295.88M514.34 282.72H520.14M514.34 295.88H520.14M517.61 275.88V291.44M514.71 275.88H520.51M514.71 291.44H520.51M517.56 270.79V280.77M514.66 270.79H520.46M514.66 280.77H520.46M517.61 285V300.82M514.71 285H520.51M514.71 300.82H520.51M517.51 273.64V289.39M514.61 273.64H520.41M514.61 289.39H520.41M517.56 274.11V290.27M514.66 274.11H520.46M514.66 290.27H520.46M517.99 278.9V292.11M515.09 278.9H520.89M515.09 292.11H520.89M517.89 281.3V292.69M514.99 281.3H520.79M514.99 292.69H520.79M517.97 272.47V285.6M515.07 272.47H520.87M515.07 285.6H520.87M518.02 283.71V296.77M515.12 283.71H520.92M515.12 296.77H520.92M517.92 277.9V290.13M515.02 277.9H520.82M515.02 290.13H520.82M518.3 275.64V288.94M515.4 275.64H521.2M515.4 288.94H521.2M518.28 273.48V287.4M515.38 273.48H521.18M515.38 287.4H521.18M518.36 272.46V284M515.46 272.46H521.26M515.46 284H521.26M518.33 276.85V291.2M515.43 276.85H521.23M515.43 291.2H521.23M518.36 279.11V295.59M515.46 279.11H521.26M515.46 295.59H521.26M518.66 273.91V284.46M515.76 273.91H521.56M515.76 284.46H521.56M518.6 272.91V287.45M515.7 272.91H521.5M515.7 287.45H521.5M519.11 262.74V274.78M516.21 262.74H522.01M516.21 274.78H522.01M519.06 262.98V274.96M516.16 262.98H521.96M516.16 274.96H521.96M519.07 263.79V273.75M516.17 263.79H521.97M516.17 273.75H521.97M519.07 261.97V271.12M516.17 261.97H521.97M516.17 271.12H521.97M518.99 271.22V281.02M516.09 271.22H521.89M516.09 281.02H521.89M519.09 272.53V284.51M516.19 272.53H521.99M516.19 284.51H521.99M519.2 263.9V274.13M516.3 263.9H522.1M516.3 274.13H522.1M519.26 262.8V273.85M516.36 262.8H522.16M516.36 273.85H522.16M519.35 265.13V279.38M516.45 265.13H522.25M516.45 279.38H522.25M519.4 264.3V273.8M516.5 264.3H522.3M516.5 273.8H522.3M519.5 262.59V274.41M516.6 262.59H522.4M516.6 274.41H522.4M519.56 266.03V278.43M516.66 266.03H522.46M516.66 278.43H522.46M519.65 260.77V274.57M516.75 260.77H522.55M516.75 274.57H522.55M519.71 259.36V271.11M516.81 259.36H522.61M516.81 271.11H522.61M519.77 262.27V271.73M516.87 262.27H522.67M516.87 271.73H522.67M519.83 266.22V275.95M516.93 266.22H522.73M516.93 275.95H522.73M519.91 258.27V271.08M517.01 258.27H522.81M517.01 271.08H522.81M519.98 264.4V274.6M517.08 264.4H522.88M517.08 274.6H522.88M520.08 258.53V267.78M517.18 258.53H522.98M517.18 267.78H522.98M520.13 256.62V269.11M517.23 256.62H523.03M517.23 269.11H523.03M520.23 251.24V259.26M517.33 251.24H523.13M517.33 259.26H523.13M520.29 256.04V269.01M517.39 256.04H523.19M517.39 269.01H523.19M520.37 254V261.93M517.47 254H523.27M517.47 261.93H523.27M520.42 250.85V258.82M517.52 250.85H523.32M517.52 258.82H523.32M520.5 247.11V257.7M517.6 247.11H523.4M517.6 257.7H523.4M520.57 255.02V263.28M517.67 255.02H523.47M517.67 263.28H523.47M520.67 247.78V257.25M517.77 247.78H523.57M517.77 257.25H523.57M520.71 250.38V262.46M517.81 250.38H523.61M517.81 262.46H523.61M520.79 248.03V259.07M517.89 248.03H523.69M517.89 259.07H523.69M520.87 249.04V257.72M517.97 249.04H523.77M517.97 257.72H523.77M520.96 244.02V252.49M518.06 244.02H523.86M518.06 252.49H523.86M521.04 244.61V253.14M518.14 244.61H523.94M518.14 253.14H523.94M521.1 238.95V249.64M518.2 238.95H524M518.2 249.64H524M521.18 242.22V250.93M518.28 242.22H524.08M518.28 250.93H524.08M521.26 241.88V250.34M518.36 241.88H524.16M518.36 250.34H524.16M521.32 236.86V246.59M518.42 236.86H524.22M518.42 246.59H524.22M521.38 238.4V246.09M518.48 238.4H524.28M518.48 246.09H524.28M521.44 244.05V254.51M518.54 244.05H524.34M518.54 254.51H524.34M521.52 238.02V245.15M518.62 238.02H524.42M518.62 245.15H524.42M521.62 238.68V249.32M518.72 238.68H524.52M518.72 249.32H524.52M521.69 237.01V245.7M518.79 237.01H524.59M518.79 245.7H524.59M521.74 238.65V248.54M518.84 238.65H524.64M518.84 248.54H524.64M521.81 236.63V246.11M518.91 236.63H524.71M518.91 246.11H524.71M521.91 233.96V242.86M519.01 233.96H524.81M519.01 242.86H524.81M521.97 237.1V244.42M519.07 237.1H524.87M519.07 244.42H524.87M522.03 232.34V240.25M519.13 232.34H524.93M519.13 240.25H524.93M523.36 206.63V213.47M520.46 206.63H526.26M520.46 213.47H526.26M523.41 207.9V214.06M520.51 207.9H526.31M520.51 214.06H526.31M523.48 207.74V212.51M520.58 207.74H526.38M520.58 212.51H526.38M523.59 204.07V209.27M520.69 204.07H526.49M520.69 209.27H526.49M523.66 204.91V210.62M520.76 204.91H526.56M520.76 210.62H526.56M523.74 202.79V209.83M520.84 202.79H526.64M520.84 209.83H526.64M523.78 199.85V204.23M520.88 199.85H526.68M520.88 204.23H526.68M523.85 201.71V206.22M520.95 201.71H526.75M520.95 206.22H526.75M523.94 199.3V205.76M521.04 199.3H526.84M521.04 205.76H526.84M524.03 198.2V204.77M521.13 198.2H526.93M521.13 204.77H526.93M524.09 194.87V199.15M521.19 194.87H526.99M521.19 199.15H526.99M524.15 194.41V200.7M521.25 194.41H527.05M521.25 200.7H527.05M524.23 194.16V198.62M521.33 194.16H527.13M521.33 198.62H527.13M524.32 192.73V196.78M521.42 192.73H527.22M521.42 196.78H527.22M524.37 190.43V195.11M521.47 190.43H527.27M521.47 195.11H527.27M524.47 190.76V194.74M521.57 190.76H527.37M521.57 194.74H527.37M524.53 185.03V190.22M521.63 185.03H527.43M521.63 190.22H527.43M524.6 186.02V190.02M521.7 186.02H527.5M521.7 190.02H527.5M524.68 183.74V187.96M521.78 183.74H527.58M521.78 187.96H527.58M524.74 182.23V186.44M521.84 182.23H527.64M521.84 186.44H527.64M524.8 180.52V184.24M521.9 180.52H527.7M521.9 184.24H527.7M524.89 179.62V183.34M521.99 179.62H527.79M521.99 183.34H527.79M524.97 178.19V181.59M522.07 178.19H527.87M522.07 181.59H527.87M525.05 176.75V180.22M522.15 176.75H527.95M522.15 180.22H527.95M525.11 175.51V179.51M522.21 175.51H528.01M522.21 179.51H528.01M525.19 171.89V176.78M522.29 171.89H528.09M522.29 176.78H528.09M525.25 168.27V171.33M522.35 168.27H528.15M522.35 171.33H528.15M525.31 170.19V173.71M522.41 170.19H528.21M522.41 173.71H528.21M525.38 167.33V170.72M522.48 167.33H528.28M522.48 170.72H528.28M525.45 165.61V168.79M522.55 165.61H528.35M522.55 168.79H528.35M525.56 161.98V165.24M522.66 161.98H528.46M522.66 165.24H528.46M525.61 161.81V166.04M522.71 161.81H528.51M522.71 166.04H528.51M525.68 160.86V163.92M522.78 160.86H528.58M522.78 163.92H528.58M525.76 157.55V161.06M522.86 157.55H528.66M522.86 161.06H528.66M525.84 155.93V159.81M522.94 155.93H528.74M522.94 159.81H528.74M525.93 152.79V155.52M523.03 152.79H528.83M523.03 155.52H528.83M525.99 151.46V155.43M523.09 151.46H528.89M523.09 155.43H528.89M526.05 151.09V153.95M523.15 151.09H528.95M523.15 153.95H528.95M526.44 142.34V144.63M523.54 142.34H529.34M523.54 144.63H529.34M526.49 138.8V142.21M523.59 138.8H529.39M523.59 142.21H529.39M526.55 139.26V141.92M523.65 139.26H529.45M523.65 141.92H529.45M526.62 137.03V139.4M523.72 137.03H529.52M523.72 139.4H529.52M526.72 135.06V137.81M523.82 135.06H529.62M523.82 137.81H529.62M526.77 133.93V137.03M523.87 133.93H529.67M523.87 137.03H529.67M526.87 132.22V135.17M523.97 132.22H529.77M523.97 135.17H529.77M526.91 131.08V133.84M524.01 131.08H529.81M524.01 133.84H529.81M526.99 129.78V132.11M524.09 129.78H529.89M524.09 132.11H529.89M527.05 127.18V130.06M524.15 127.18H529.95M524.15 130.06H529.95M528.38 111.48V113.33M525.48 111.48H531.28M525.48 113.33H531.28M528.47 112.48V114.95M525.57 112.48H531.37M525.57 114.95H531.37M528.54 111.45V113.93M525.64 111.45H531.44M525.64 113.93H531.44M528.6 112.9V114.98M525.7 112.9H531.5M525.7 114.98H531.5M528.66 113.16V115.04M525.76 113.16H531.56M525.76 115.04H531.56M528.73 112.87V114.81M525.83 112.87H531.63M525.83 114.81H531.63M528.83 113.25V115.84M525.93 113.25H531.73M525.93 115.84H531.73M528.88 114.9V116.83M525.98 114.9H531.78M525.98 116.83H531.78M528.99 114.77V117.08M526.09 114.77H531.89M526.09 117.08H531.89M529.05 116.62V119.06M526.15 116.62H531.95M526.15 119.06H531.95M529.1 117.28V119.13M526.2 117.28H532M526.2 119.13H532M529.19 117.54V119.4M526.29 117.54H532.09M526.29 119.4H532.09M529.26 118.95V120.85M526.36 118.95H532.16M526.36 120.85H532.16M529.34 120.18V122.57M526.44 120.18H532.24M526.44 122.57H532.24M529.43 121.56V123.38M526.53 121.56H532.33M526.53 123.38H532.33M529.49 122.28V124.75M526.59 122.28H532.39M526.59 124.75H532.39M529.53 122.51V125.39M526.63 122.51H532.43M526.63 125.39H532.43M529.61 124.29V127.08M526.71 124.29H532.51M526.71 127.08H532.51M529.71 127.09V129.97M526.81 127.09H532.61M526.81 129.97H532.61M529.79 128.55V131.1M526.89 128.55H532.69M526.89 131.1H532.69M529.87 129.72V132.8M526.97 129.72H532.77M526.97 132.8H532.77M529.91 130.39V132.81M527.01 130.39H532.81M527.01 132.81H532.81M529.99 133.59V135.73M527.09 133.59H532.89M527.09 135.73H532.89M530.06 134.57V136.83M527.16 134.57H532.96M527.16 136.83H532.96M530.15 136.22V139.53M527.25 136.22H533.05M527.25 139.53H533.05M530.22 138.3V141.62M527.32 138.3H533.12M527.32 141.62H533.12M530.26 137.8V140.78M527.36 137.8H533.16M527.36 140.78H533.16M530.7 150.73V153.27M527.8 150.73H533.6M527.8 153.27H533.6M530.78 151.78V154.81M527.88 151.78H533.68M527.88 154.81H533.68M530.87 155.03V158.05M527.97 155.03H533.77M527.97 158.05H533.77M530.94 155.28V158.73M528.04 155.28H533.84M528.04 158.73H533.84M531 157.5V160.65M528.1 157.5H533.9M528.1 160.65H533.9M531.08 159.57V162.79M528.18 159.57H533.98M528.18 162.79H533.98M531.15 161.35V165.55M528.25 161.35H534.05M528.25 165.55H534.05M531.22 163.12V166.64M528.32 163.12H534.12M528.32 166.64H534.12M531.31 163.4V166.78M528.41 163.4H534.21M528.41 166.78H534.21M531.38 167.43V171.89M528.48 167.43H534.28M528.48 171.89H534.28M531.43 167.15V171.11M528.53 167.15H534.33M528.53 171.11H534.33M531.54 170.87V174.72M528.64 170.87H534.44M528.64 174.72H534.44M531.58 172.13V175.89M528.68 172.13H534.48M528.68 175.89H534.48M531.66 172.31V177.13M528.76 172.31H534.56M528.76 177.13H534.56M531.73 174.74V179.06M528.83 174.74H534.63M528.83 179.06H534.63M531.82 176.89V180.9M528.92 176.89H534.72M528.92 180.9H534.72M531.89 176.42V180.43M528.99 176.42H534.79M528.99 180.43H534.79M531.95 178.92V184.29M529.05 178.92H534.85M529.05 184.29H534.85M533.43 210.26V215.39M530.53 210.26H536.33M530.53 215.39H536.33M533.51 213.59V220.7M530.61 213.59H536.41M530.61 220.7H536.41M533.56 211.32V217.75M530.66 211.32H536.46M530.66 217.75H536.46M533.64 215.02V222.11M530.74 215.02H536.54M530.74 222.11H536.54M533.69 214.76V221M530.79 214.76H536.59M530.79 221H536.59M533.78 217.61V224.69M530.88 217.61H536.68M530.88 224.69H536.68M533.84 218.64V226.91M530.94 218.64H536.74M530.94 226.91H536.74M533.92 220.07V228.61M531.02 220.07H536.82M531.02 228.61H536.82M533.99 216.9V223.43M531.09 216.9H536.89M531.09 223.43H536.89M534.09 222.16V229.56M531.19 222.16H536.99M531.19 229.56H536.99M534.16 222.73V230.08M531.26 222.73H537.06M531.26 230.08H537.06M534.24 221.3V229.03M531.34 221.3H537.14M531.34 229.03H537.14M534.29 224.8V231.7M531.39 224.8H537.19M531.39 231.7H537.19M534.37 222.77V230.6M531.47 222.77H537.27M531.47 230.6H537.27M534.44 232.21V238.74M531.54 232.21H537.34M531.54 238.74H537.34M534.52 230.17V236.87M531.62 230.17H537.42M531.62 236.87H537.42M534.58 229.05V236.44M531.68 229.05H537.48M531.68 236.44H537.48M534.67 232.86V241.7M531.77 232.86H537.57M531.77 241.7H537.57M534.74 230.76V237.16M531.84 230.76H537.64M531.84 237.16H537.64M535.81 242.42V252.43M532.91 242.42H538.71M532.91 252.43H538.71M535.91 247.05V254.37M533.01 247.05H538.81M533.01 254.37H538.81M535.95 246.21V256.03M533.05 246.21H538.85M533.05 256.03H538.85M536.05 255.52V264.51M533.15 255.52H538.95M533.15 264.51H538.95M536.12 247.76V258.05M533.22 247.76H539.02M533.22 258.05H539.02M536.19 249.28V261.43M533.29 249.28H539.09M533.29 261.43H539.09M536.27 251.52V259.92M533.37 251.52H539.17M533.37 259.92H539.17M536.32 254.45V262.73M533.42 254.45H539.22M533.42 262.73H539.22M536.43 250.6V260.19M533.53 250.6H539.33M533.53 260.19H539.33M536.5 254.55V265.7M533.6 254.55H539.4M533.6 265.7H539.4M536.56 254.51V263.59M533.66 254.51H539.46M533.66 263.59H539.46M536.62 256.33V264.58M533.72 256.33H539.52M533.72 264.58H539.52M536.68 259.59V268.07M533.78 259.59H539.58M533.78 268.07H539.58M536.76 262.19V272.97M533.86 262.19H539.66M533.86 272.97H539.66M536.86 260.42V270.14M533.96 260.42H539.76M533.96 270.14H539.76M536.91 260.37V269.67M534.01 260.37H539.81M534.01 269.67H539.81M537 259.4V272.36M534.1 259.4H539.9M534.1 272.36H539.9M537.07 260.08V273.66M534.17 260.08H539.97M534.17 273.66H539.97M537.14 264.37V275.38M534.24 264.37H540.04M534.24 275.38H540.04M537.22 262.37V272.21M534.32 262.37H540.12M534.32 272.21H540.12M537.28 265.1V278.53M534.38 265.1H540.18M534.38 278.53H540.18M537.35 261.65V271.16M534.45 261.65H540.25M534.45 271.16H540.25M537.56 268.89V280.34M534.66 268.89H540.46M534.66 280.34H540.46M537.61 262.83V276.35M534.71 262.83H540.51M534.71 276.35H540.51M537.61 261.03V271.8M534.71 261.03H540.51M534.71 271.8H540.51M538.32 264.87V275.36M535.42 264.87H541.22M535.42 275.36H541.22M538.33 279.04V291.78M535.43 279.04H541.23M535.43 291.78H541.23M538.31 273.32V287.54M535.41 273.32H541.21M535.41 287.54H541.21M538.3 272.68V283.19M535.4 272.68H541.2M535.4 283.19H541.2M538.36 279.56V295.78M535.46 279.56H541.26M535.46 295.78H541.26M538.71 276.46V290.71M535.81 276.46H541.61M535.81 290.71H541.61M538.75 281.09V293.84M535.85 281.09H541.65M535.85 293.84H541.65M538.73 277.9V292.71M535.83 277.9H541.63M535.83 292.71H541.63M539.84 293.75V309.12M536.94 293.75H542.74M536.94 309.12H542.74M539.79 280.24V296.85M536.89 280.24H542.69M536.89 296.85H542.69M539.77 281.75V296.1M536.87 281.75H542.67M536.87 296.1H542.67M539.84 283.64V297.4M536.94 283.64H542.74M536.94 297.4H542.74M539.85 292.2V308.89M536.95 292.2H542.75M536.95 308.89H542.75M540.23 284.91V297.77M537.33 284.91H543.13M537.33 297.77H543.13M540.14 277.21V293.36M537.24 277.21H543.04M537.24 293.36H543.04M540.12 292.73V311.09M537.22 292.73H543.02M537.22 311.09H543.02M540.14 281.11V296.8M537.24 281.11H543.04M537.24 296.8H543.04M540.13 284.43V298.42M537.23 284.43H543.03M537.23 298.42H543.03M540.6 296.74V317.11M537.7 296.74H543.5M537.7 317.11H543.5M540.62 293.81V306.49M537.72 293.81H543.52M537.72 306.49H543.52M540.59 291.56V308.89M537.69 291.56H543.49M537.69 308.89H543.49M540.53 281.88V297.58M537.63 281.88H543.43M537.63 297.58H543.43M540.52 291.29V310.05M537.62 291.29H543.42M537.62 310.05H543.42M540.87 298.43V317.88M537.97 298.43H543.77M537.97 317.88H543.77M540.96 300.77V314.61M538.06 300.77H543.86M538.06 314.61H543.86M541.28 292.44V310.57M538.38 292.44H544.18M538.38 310.57H544.18M541.3 289.72V306.41M538.4 289.72H544.2M538.4 306.41H544.2M541.36 290.11V305.84M538.46 290.11H544.26M538.46 305.84H544.26M541.68 293.53V310.54M538.78 293.53H544.58M538.78 310.54H544.58M541.72 302.05V321.65M538.82 302.05H544.62M538.82 321.65H544.62M541.72 300.04V321.18M538.82 300.04H544.62M538.82 321.18H544.62M541.67 289.7V306.78M538.77 289.7H544.57M538.77 306.78H544.57M541.58 291.42V306.2M538.68 291.42H544.48M538.68 306.2H544.48M542.46 307.92V328.29M539.56 307.92H545.36M539.56 328.29H545.36M542.34 291.72V311.43M539.44 291.72H545.24M539.44 311.43H545.24M542.37 298.54V314.56M539.47 298.54H545.27M539.47 314.56H545.27M542.38 294.23V311.81M539.48 294.23H545.28M539.48 311.81H545.28M542.38 288V304.71M539.48 288H545.28M539.48 304.71H545.28M542.8 303.3V318.89M539.9 303.3H545.7M539.9 318.89H545.7M542.82 292.88V311.84M539.92 292.88H545.72M539.92 311.84H545.72M542.76 301.04V321.56M539.86 301.04H545.66M539.86 321.56H545.66M542.7 304.48V320.95M539.8 304.48H545.6M539.8 320.95H545.6M542.82 305.29V320.37M539.92 305.29H545.72M539.92 320.37H545.72M542.77 306.95V322.72M539.87 306.95H545.67M539.87 322.72H545.67M543.14 302.55V320.97M540.24 302.55H546.04M540.24 320.97H546.04M543.1 304.73V327.59M540.2 304.73H546M540.2 327.59H546M543.09 299.64V314.16M540.19 299.64H545.99M540.19 314.16H545.99M543.12 315.14V333.92M540.22 315.14H546.02M540.22 333.92H546.02M543.16 293.79V307.57M540.26 293.79H546.06M540.26 307.57H546.06M543.55 299.5V320.17M540.65 299.5H546.45M540.65 320.17H546.45M543.46 308.31V323.11M540.56 308.31H546.36M540.56 323.11H546.36M543.47 315.05V330.97M540.57 315.05H546.37M540.57 330.97H546.37M543.54 303.75V320.52M540.64 303.75H546.44M540.64 320.52H546.44M543.55 308.34V324.51M540.65 308.34H546.45M540.65 324.51H546.45M543.47 298.79V316.77M540.57 298.79H546.37M540.57 316.77H546.37M543.92 302.2V322.73M541.02 302.2H546.82M541.02 322.73H546.82M543.77 301.01V319.53M540.87 301.01H546.67M540.87 319.53H546.67M543.78 299.42V314.32M540.88 299.42H546.68M540.88 314.32H546.68M543.85 307.76V322.46M540.95 307.76H546.75M540.95 322.46H546.75M543.91 298.19V319.4M541.01 298.19H546.81M541.01 319.4H546.81M544.23 301.24V315.49M541.33 301.24H547.13M541.33 315.49H547.13M544.25 314.83V331.71M541.35 314.83H547.15M541.35 331.71H547.15M544.18 305.5V328.76M541.28 305.5H547.08M541.28 328.76H547.08M544.21 316.27V332.92M541.31 316.27H547.11M541.31 332.92H547.11M544.61 302.75V319.48M541.71 302.75H547.51M541.71 319.48H547.51M544.52 310.97V329.47M541.62 310.97H547.42M541.62 329.47H547.42M544.58 303.38V320.63M541.68 303.38H547.48M541.68 320.63H547.48M544.62 307.95V327.88M541.72 307.95H547.52M541.72 327.88H547.52M545 309.38V333.23M542.1 309.38H547.9M542.1 333.23H547.9M544.93 306.15V323.31M542.03 306.15H547.83M542.03 323.31H547.83M544.95 311.14V326.91M542.05 311.14H547.85M542.05 326.91H547.85M544.96 310.92V335.32M542.06 310.92H547.86M542.06 335.32H547.86M544.87 317.3V333.48M541.97 317.3H547.77M541.97 333.48H547.77M545.25 308.61V329.06M542.35 308.61H548.15M542.35 329.06H548.15M545.35 311.82V331.84M542.45 311.82H548.25M542.45 331.84H548.25M545.24 311.35V333.24M542.34 311.35H548.14M542.34 333.24H548.14M546.06 312.35V335.58M543.16 312.35H548.96M543.16 335.58H548.96M546.09 316.17V336.21M543.19 316.17H548.99M543.19 336.21H548.99M546.4 318.98V339.75M543.5 318.98H549.3M543.5 339.75H549.3M546.4 306.39V325.76M543.5 306.39H549.3M543.5 325.76H549.3M546.41 314.69V331.65M543.51 314.69H549.31M543.51 331.65H549.31M546.38 310.17V332.83M543.48 310.17H549.28M543.48 332.83H549.28M546.78 314V332.25M543.88 314H549.68M543.88 332.25H549.68M546.77 321.78V344.94M543.87 321.78H549.67M543.87 344.94H549.67M546.72 313.13V331.71M543.82 313.13H549.62M543.82 331.71H549.62M546.82 318.61V341.5M543.92 318.61H549.72M543.92 341.5H549.72M547.06 316.09V337.5M544.16 316.09H549.96M544.16 337.5H549.96M547.13 323.33V342.41M544.23 323.33H550.03M544.23 342.41H550.03M547.42 315.73V333.08M544.52 315.73H550.32M544.52 333.08H550.32M547.55 311.94V335.46M544.65 311.94H550.45M544.65 335.46H550.45M547.45 317.51V334.26M544.55 317.51H550.35M544.55 334.26H550.35M547.49 316.43V337.64M544.59 316.43H550.39M544.59 337.64H550.39M547.88 324.76V349.48M544.98 324.76H550.78M544.98 349.48H550.78M547.92 304.25V324.62M545.02 304.25H550.82M545.02 324.62H550.82M547.9 313.72V330.35M545 313.72H550.8M545 330.35H550.8M547.85 302.13V324.52M544.95 302.13H550.75M544.95 324.52H550.75M547.87 314.9V340.01M544.97 314.9H550.77M544.97 340.01H550.77M547.85 306.91V326.45M544.95 306.91H550.75M544.95 326.45H550.75M548.63 323.91V341.98M545.73 323.91H551.53M545.73 341.98H551.53M548.63 324.99V345.75M545.73 324.99H551.53M545.73 345.75H551.53M548.5 320.53V342.9M545.6 320.53H551.4M545.6 342.9H551.4M548.53 316.04V335.89M545.63 316.04H551.43M545.63 335.89H551.43M548.64 329.52V353.91M545.74 329.52H551.54M545.74 353.91H551.54M549.26 319.22V343.14M546.36 319.22H552.16M546.36 343.14H552.16M549.34 312.68V335.97M546.44 312.68H552.24M546.44 335.97H552.24M549.25 310.3V334.35M546.35 310.3H552.15M546.35 334.35H552.15M549.35 331.78V349.98M546.45 331.78H552.25M546.45 349.98H552.25M549.65 318.99V335.33M546.75 318.99H552.55M546.75 335.33H552.55M549.74 331.79V352.24M546.84 331.79H552.64M546.84 352.24H552.64M549.96 328.4V354.52M547.06 328.4H552.86M547.06 354.52H552.86M550.04 323.7V341.08M547.14 323.7H552.94M547.14 341.08H552.94M550 330.07V357.54M547.1 330.07H552.9M547.1 357.54H552.9M550.07 334.12V362.08M547.17 334.12H552.97M547.17 362.08H552.97M550.05 320.88V345.1M547.15 320.88H552.95M547.15 345.1H552.95M550.32 320.36V341.71M547.42 320.36H553.22M547.42 341.71H553.22M550.47 324.94V350.43M547.57 324.94H553.37M547.57 350.43H553.37M550.33 327.39V352.02M547.43 327.39H553.23M547.43 352.02H553.23M550.39 335.33V359.15M547.49 335.33H553.29M547.49 359.15H553.29M550.35 324.98V351.3M547.45 324.98H553.25M547.45 351.3H553.25M550.75 317.11V338.17M547.85 317.11H553.65M547.85 338.17H553.65M550.74 331.97V352.1M547.84 331.97H553.64M547.84 352.1H553.64M551.11 331.8V354.86M548.21 331.8H554.01M548.21 354.86H554.01M551.21 321.56V342.93M548.31 321.56H554.11M548.31 342.93H554.11M551.09 331.47V351.95M548.19 331.47H553.99M548.19 351.95H553.99M551.2 314.85V337.55M548.3 314.85H554.1M548.3 337.55H554.1M551.07 317.81V337.52M548.17 317.81H553.97M548.17 337.52H553.97M551.47 317.31V334.47M548.57 317.31H554.37M548.57 334.47H554.37M551.53 318.19V343.51M548.63 318.19H554.43M548.63 343.51H554.43M551.56 329.21V351.3M548.66 329.21H554.46M548.66 351.3H554.46M551.51 329.49V347.97M548.61 329.49H554.41M548.61 347.97H554.41M551.92 336.82V358.87M549.02 336.82H554.82M549.02 358.87H554.82M551.91 319.73V343.49M549.01 319.73H554.81M549.01 343.49H554.81M551.86 320.26V342.11M548.96 320.26H554.76M548.96 342.11H554.76M552.26 319.57V342.58M549.36 319.57H555.16M549.36 342.58H555.16M552.29 325.53V352.2M549.39 325.53H555.19M549.39 352.2H555.19M552.53 318.63V336.65M549.63 318.63H555.43M549.63 336.65H555.43M552.66 323.06V343.75M549.76 323.06H555.56M549.76 343.75H555.56M552.64 317.3V342.59M549.74 317.3H555.54M549.74 342.59H555.54M552.61 334.97V356.08M549.71 334.97H555.51M549.71 356.08H555.51M552.89 337.74V358.58M549.99 337.74H555.79M549.99 358.58H555.79M553.03 321.81V341.84M550.13 321.81H555.93M550.13 341.84H555.93M552.95 320.96V347.49M550.05 320.96H555.85M550.05 347.49H555.85M552.99 321.87V347.13M550.09 321.87H555.89M550.09 347.13H555.89M553.28 311.02V328.46M550.38 311.02H556.18M550.38 328.46H556.18M553.24 328.98V354.22M550.34 328.98H556.14M550.34 354.22H556.14M553.28 332.72V355.15M550.38 332.72H556.18M550.38 355.15H556.18M553.65 325.23V344.62M550.75 325.23H556.55M550.75 344.62H556.55M553.61 329.28V348.06M550.71 329.28H556.51M550.71 348.06H556.51M553.61 339.55V365.48M550.71 339.55H556.51M550.71 365.48H556.51M553.72 336.49V354.95M550.82 336.49H556.62M550.82 354.95H556.62M553.65 327.52V348.17M550.75 327.52H556.55M550.75 348.17H556.55M553.61 327.28V347.86M550.71 327.28H556.51M550.71 347.86H556.51M554.4 327.5V345.24M551.5 327.5H557.3M551.5 345.24H557.3M554.4 324.2V341.34M551.5 324.2H557.3M551.5 341.34H557.3M554.44 323.27V346.18M551.54 323.27H557.34M551.54 346.18H557.34M554.38 336.21V360.06M551.48 336.21H557.28M551.48 360.06H557.28M554.34 334.35V364.23M551.44 334.35H557.24M551.44 364.23H557.24M554.81 322.53V347.9M551.91 322.53H557.71M551.91 347.9H557.71M554.72 333.74V357.9M551.82 333.74H557.62M551.82 357.9H557.62M554.84 330.11V351.59M551.94 330.11H557.74M551.94 351.59H557.74M554.76 320.34V345.59M551.86 320.34H557.66M551.86 345.59H557.66M554.72 335.59V365.71M551.82 335.59H557.62M551.82 365.71H557.62M554.79 328.4V354.79M551.89 328.4H557.69M551.89 354.79H557.69M555.19 340.83V363.68M552.29 340.83H558.09M552.29 363.68H558.09M555.19 338.75V360.83M552.29 338.75H558.09M552.29 360.83H558.09M555.45 330.68V348.34M552.55 330.68H558.35M552.55 348.34H558.35M555.51 322.54V342.79M552.61 322.54H558.41M552.61 342.79H558.41M555.59 319.61V338M552.69 319.61H558.49M552.69 338H558.49M555.55 332.95V352.35M552.65 332.95H558.45M552.65 352.35H558.45M555.83 329.23V355.37M552.93 329.23H558.73M552.93 355.37H558.73M555.83 317.7V342.8M552.93 317.7H558.73M552.93 342.8H558.73M555.93 320.14V345.23M553.03 320.14H558.83M553.03 345.23H558.83M555.92 321.59V345.4M553.02 321.59H558.82M553.02 345.4H558.82M555.86 326.58V353.1M552.96 326.58H558.76M552.96 353.1H558.76M555.83 344.56V369.14M552.93 344.56H558.73M552.93 369.14H558.73M556.17 320.05V343.8M553.27 320.05H559.07M553.27 343.8H559.07M556.17 323.32V349.18M553.27 323.32H559.07M553.27 349.18H559.07M557.31 322.56V348.74M554.41 322.56H560.21M554.41 348.74H560.21M557.31 324.61V341.66M554.41 324.61H560.21M554.41 341.66H560.21M558.1 319.6V338.13M555.2 319.6H561M555.2 338.13H561M558.38 333.44V354.82M555.48 333.44H561.28M555.48 354.82H561.28M558.74 320.21V342.25M555.84 320.21H561.64M555.84 342.25H561.64M559.58 335.35V362.54M556.68 335.35H562.48M556.68 362.54H562.48M559.85 328.9V349.87M556.95 328.9H562.75M556.95 349.87H562.75M560.31 332.31V357.14M557.41 332.31H563.21M557.41 357.14H563.21M560.57 342.58V362.55M557.67 342.58H563.47M557.67 362.55H563.47M561.27 335.04V358.32M558.37 335.04H564.17M558.37 358.32H564.17M562.1 323.68V348.96M559.2 323.68H565M559.2 348.96H565M563.47 335.85V356.13M560.57 335.85H566.37M560.57 356.13H566.37M563.83 331.71V353.26M560.93 331.71H566.73M560.93 353.26H566.73M564.32 338.25V359.71M561.42 338.25H567.22M561.42 359.71H567.22M565.74 334.5V359.35M562.84 334.5H568.64M562.84 359.35H568.64M565.75 332.69V361.01M562.85 332.69H568.65M562.85 361.01H568.65M567.26 332.94V356.89M564.36 332.94H570.16M564.36 356.89H570.16M568.58 337.37V357.23M565.68 337.37H571.48M565.68 357.23H571.48M568.61 326.35V348.71M565.71 326.35H571.51M565.71 348.71H571.51M569.44 350.99V374.68M566.54 350.99H572.34M566.54 374.68H572.34M570.13 321.04V337.46M567.23 321.04H573.03M567.23 337.46H573.03M570.39 346.28V371.47M567.49 346.28H573.29M567.49 371.47H573.29M570.9 340.39V362.64M568 340.39H573.8M568 362.64H573.8M570.8 346.41V369.98M567.9 346.41H573.7M567.9 369.98H573.7M571.22 336.12V366.39M568.32 336.12H574.12M568.32 366.39H574.12M573 345.49V370.22M570.1 345.49H575.9M570.1 370.22H575.9M574.84 333.03V362.6M571.94 333.03H577.74M571.94 362.6H577.74M575.24 351.39V381.25M572.34 351.39H578.14M572.34 381.25H578.14M575.98 334.11V362.96M573.08 334.11H578.88M573.08 362.96H578.88M577 332V353.33M574.1 332H579.9M574.1 353.33H579.9M577.31 327.81V353.28M574.41 327.81H580.21M574.41 353.28H580.21M578.09 328.02V354.45M575.19 328.02H580.99M575.19 354.45H580.99M579.9 334.46V360.33M577 334.46H582.8M577 360.33H582.8M581.06 351.67V376.01M578.16 351.67H583.96M578.16 376.01H583.96" fill="none" stroke="#000" stroke-width="1"/>
<g fill="#000"><circle cx="95.8" cy="326.2" r="2.55"/><circle cx="112.3" cy="323.1" r="2.55"/><circle cx="98.4" cy="338.4" r="2.55"/><circle cx="116.5" cy="331.4" r="2.55"/><circle cx="122.2" cy="331.4" r="2.55"/><circle cx="121.2" cy="335.5" r="2.55"/><circle cx="125.3" cy="339.4" r="2.55"/><circle cx="131.8" cy="332.4" r="2.55"/><circle cx="132.6" cy="335.6" r="2.55"/><circle cx="113" cy="341.6" r="2.55"/><circle cx="147.3" cy="328.4" r="2.55"/><circle cx="144.7" cy="335.4" r="2.55"/><circle cx="161.3" cy="331.8" r="2.55"/><circle cx="165.6" cy="339.7" r="2.55"/><circle cx="174.6" cy="338.7" r="2.55"/><circle cx="180.6" cy="333.3" r="2.55"/><circle cx="177.8" cy="340.8" r="2.55"/><circle cx="182.7" cy="353.7" r="2.55"/><circle cx="178.9" cy="358" r="2.55"/><circle cx="172" cy="369.2" r="2.55"/><circle cx="166.6" cy="367.2" r="2.55"/><circle cx="155.5" cy="373" r="2.55"/><circle cx="147.7" cy="375.8" r="2.55"/><circle cx="150.5" cy="365.5" r="2.55"/><circle cx="139.8" cy="364.4" r="2.55"/><circle cx="135.5" cy="369.8" r="2.55"/><circle cx="134.8" cy="377.8" r="2.55"/><circle cx="138.7" cy="374" r="2.55"/><circle cx="130.1" cy="366.6" r="2.55"/><circle cx="125.8" cy="378.8" r="2.55"/><circle cx="122" cy="384.4" r="2.55"/><circle cx="119.8" cy="368.3" r="2.55"/><circle cx="123.2" cy="363.8" r="2.55"/><circle cx="108.2" cy="369.8" r="2.55"/><circle cx="106" cy="370.9" r="2.55"/><circle cx="102.2" cy="380.6" r="2.55"/><circle cx="95.3" cy="378" r="2.55"/><circle cx="94" cy="372" r="2.55"/><circle cx="97.5" cy="392.2" r="2.55"/><circle cx="99.8" cy="395.8" r="2.55"/><circle cx="96.8" cy="362.3" r="2.55"/><circle cx="104.3" cy="365.5" r="2.55"/><circle cx="231.4" cy="367.1" r="2.55"/><circle cx="232.8" cy="335" r="2.55"/><circle cx="235.2" cy="331.7" r="2.55"/><circle cx="245" cy="328.6" r="2.55"/><circle cx="249.4" cy="331.7" r="2.55"/><circle cx="271.9" cy="317" r="2.55"/><circle cx="279.6" cy="324" r="2.55"/><circle cx="285.5" cy="318" r="2.55"/><circle cx="277.4" cy="331" r="2.55"/><circle cx="292" cy="326.7" r="2.55"/><circle cx="295.6" cy="325.8" r="2.55"/><circle cx="301.8" cy="339" r="2.55"/><circle cx="308.6" cy="345" r="2.55"/><circle cx="311.4" cy="356.5" r="2.55"/><circle cx="310" cy="368.8" r="2.55"/><circle cx="298" cy="370.2" r="2.55"/><circle cx="297" cy="372" r="2.55"/><circle cx="281.8" cy="370.6" r="2.55"/><circle cx="288.8" cy="367.8" r="2.55"/><circle cx="271" cy="367.8" r="2.55"/><circle cx="265.9" cy="362.5" r="2.55"/><circle cx="260.4" cy="365.6" r="2.55"/><circle cx="246.6" cy="367.5" r="2.55"/><circle cx="240.7" cy="362.5" r="2.55"/><circle cx="250.3" cy="367" r="2.55"/><circle cx="367" cy="370" r="2.55"/><circle cx="368" cy="338.6" r="2.55"/><circle cx="372" cy="335.6" r="2.55"/><circle cx="371" cy="373.6" r="2.55"/><circle cx="374" cy="364.6" r="2.55"/><circle cx="379.4" cy="381" r="2.55"/><circle cx="385.4" cy="337" r="2.55"/><circle cx="396" cy="374.4" r="2.55"/><circle cx="403.6" cy="338" r="2.55"/><circle cx="410.6" cy="336.6" r="2.55"/><circle cx="405" cy="374.4" r="2.55"/><circle cx="409.4" cy="376" r="2.55"/><circle cx="416.6" cy="375" r="2.55"/><circle cx="424.4" cy="335" r="2.55"/><circle cx="419" cy="337" r="2.55"/><circle cx="434.4" cy="337.4" r="2.55"/><circle cx="428.6" cy="368" r="2.55"/><circle cx="435" cy="370.4" r="2.55"/><circle cx="441.4" cy="370.4" r="2.55"/><circle cx="444.4" cy="336" r="2.55"/><circle cx="447.4" cy="334.4" r="2.55"/><circle cx="454" cy="343" r="2.55"/><circle cx="448.4" cy="361" r="2.55"/><circle cx="455" cy="367" r="2.55"/><circle cx="457" cy="379" r="2.55"/><circle cx="460" cy="379" r="2.55"/><circle cx="556.5" cy="309.5" r="2.55"/><circle cx="574.5" cy="318.5" r="2.55"/><circle cx="574.5" cy="321.5" r="2.55"/><circle cx="538" cy="309" r="2.55"/><circle cx="556.2" cy="385" r="2.55"/><circle cx="573.2" cy="386.5" r="2.55"/><circle cx="578.5" cy="364.5" r="2.55"/><circle cx="557" cy="367.5" r="2.55"/><circle cx="565" cy="368" r="2.55"/><circle cx="569" cy="373.5" r="2.55"/><circle cx="558" cy="373.5" r="2.55"/><circle cx="506.5" cy="368" r="2.55"/><circle cx="505.5" cy="361" r="2.55"/><circle cx="509.5" cy="354" r="2.55"/><circle cx="572.6" cy="336" r="2.55"/><circle cx="577.5" cy="345" r="2.55"/><circle cx="580.2" cy="352" r="2.55"/><circle cx="579.8" cy="348.7" r="2.55"/><circle cx="574" cy="352" r="2.55"/><circle cx="565.9" cy="331.4" r="2.55"/><circle cx="562.7" cy="334.6" r="2.55"/><circle cx="546.5" cy="345" r="2.55"/><circle cx="547" cy="352" r="2.55"/><circle cx="548" cy="359" r="2.55"/><circle cx="546" cy="338" r="2.55"/><circle cx="549.5" cy="356" r="2.55"/><circle cx="550.5" cy="363" r="2.55"/><circle cx="494" cy="363" r="2.55"/><circle cx="499" cy="368" r="2.55"/><circle cx="494" cy="374.5" r="2.55"/><circle cx="496.5" cy="372" r="2.55"/><circle cx="506.5" cy="308" r="2.55"/><circle cx="496" cy="320" r="2.55"/><circle cx="495" cy="327" r="2.55"/><circle cx="500.5" cy="318" r="2.55"/><circle cx="527.98" cy="111.9" r="2.55"/><circle cx="528.1" cy="113.05" r="2.55"/><circle cx="528.22" cy="114.2" r="2.55"/><circle cx="528.04" cy="115.35" r="2.55"/><circle cx="528.16" cy="116.5" r="2.55"/><circle cx="527.98" cy="117.65" r="2.55"/><circle cx="528.1" cy="118.8" r="2.55"/><circle cx="528.22" cy="119.95" r="2.55"/><circle cx="528.04" cy="121.1" r="2.55"/><circle cx="528.16" cy="122.25" r="2.55"/><circle cx="527.98" cy="123.4" r="2.55"/><circle cx="528.1" cy="124.55" r="2.55"/><circle cx="528.22" cy="125.7" r="2.55"/><circle cx="121.81" cy="360.37" r="2.55"/><circle cx="141" cy="363.88" r="2.55"/><circle cx="97.75" cy="348.47" r="2.55"/><circle cx="98.82" cy="351.26" r="2.55"/><circle cx="130.92" cy="353.93" r="2.55"/><circle cx="149.28" cy="346.58" r="2.55"/><circle cx="144.73" cy="357.44" r="2.55"/><circle cx="105.56" cy="358.12" r="2.55"/><circle cx="108.86" cy="357.53" r="2.55"/><circle cx="150.32" cy="342.12" r="2.55"/><circle cx="97.89" cy="360.99" r="2.55"/><circle cx="154.08" cy="343.14" r="2.55"/><circle cx="133.51" cy="355.44" r="2.55"/><circle cx="164.39" cy="348.9" r="2.55"/><circle cx="140.03" cy="343.88" r="2.55"/><circle cx="158.51" cy="344.4" r="2.55"/><circle cx="130.34" cy="351.67" r="2.55"/><circle cx="96.05" cy="345.32" r="2.55"/><circle cx="161.69" cy="341.82" r="2.55"/><circle cx="155.42" cy="339.83" r="2.55"/><circle cx="168.52" cy="343.6" r="2.55"/><circle cx="135.41" cy="349.47" r="2.55"/><circle cx="151.07" cy="348.18" r="2.55"/><circle cx="166.88" cy="349.14" r="2.55"/><circle cx="94.54" cy="361.61" r="2.55"/><circle cx="107.71" cy="354.14" r="2.55"/><circle cx="104.21" cy="353.88" r="2.55"/><circle cx="127.88" cy="354.4" r="2.55"/><circle cx="142.22" cy="348.26" r="2.55"/><circle cx="166.64" cy="357.02" r="2.55"/><circle cx="124.97" cy="344.95" r="2.55"/><circle cx="179.17" cy="355.24" r="2.55"/><circle cx="113.62" cy="356.76" r="2.55"/><circle cx="145.82" cy="351.32" r="2.55"/><circle cx="125.92" cy="352.36" r="2.55"/><circle cx="178.76" cy="346.74" r="2.55"/><circle cx="153.7" cy="339.53" r="2.55"/><circle cx="173.91" cy="355.44" r="2.55"/><circle cx="128.01" cy="347.41" r="2.55"/><circle cx="98.13" cy="354.34" r="2.55"/><circle cx="111.39" cy="356.46" r="2.55"/><circle cx="92.52" cy="359.63" r="2.55"/><circle cx="101.68" cy="349.82" r="2.55"/><circle cx="148.07" cy="353.22" r="2.55"/><circle cx="115.33" cy="345.61" r="2.55"/><circle cx="169.33" cy="359.65" r="2.55"/><circle cx="134.67" cy="346.93" r="2.55"/><circle cx="123.51" cy="351.85" r="2.55"/><circle cx="167.51" cy="352.61" r="2.55"/><circle cx="140.31" cy="353.34" r="2.55"/><circle cx="141.66" cy="364.19" r="2.55"/><circle cx="170.63" cy="353.59" r="2.55"/><circle cx="116.13" cy="347.11" r="2.55"/><circle cx="140.7" cy="356.16" r="2.55"/><circle cx="122.33" cy="354.66" r="2.55"/><circle cx="169.66" cy="358.15" r="2.55"/><circle cx="113.02" cy="341.53" r="2.55"/><circle cx="95.03" cy="350.3" r="2.55"/><circle cx="115.96" cy="342.03" r="2.55"/><circle cx="177.3" cy="349.42" r="2.55"/><circle cx="112.45" cy="352.42" r="2.55"/><circle cx="148.98" cy="358.34" r="2.55"/><circle cx="168.56" cy="336.12" r="2.55"/><circle cx="100.17" cy="353.38" r="2.55"/><circle cx="174.83" cy="354.95" r="2.55"/><circle cx="108.66" cy="353.72" r="2.55"/><circle cx="180.43" cy="342.16" r="2.55"/><circle cx="128.83" cy="367.47" r="2.55"/><circle cx="104" cy="345.82" r="2.55"/><circle cx="174.39" cy="353.47" r="2.55"/><circle cx="181.22" cy="345.82" r="2.55"/><circle cx="124.21" cy="346.05" r="2.55"/><circle cx="180.37" cy="349.71" r="2.55"/><circle cx="140.16" cy="361.73" r="2.55"/><circle cx="167.27" cy="346.82" r="2.55"/><circle cx="251.4" cy="349.3" r="2.55"/><circle cx="252.01" cy="358.97" r="2.55"/><circle cx="241.62" cy="359.76" r="2.55"/><circle cx="278.25" cy="346.09" r="2.55"/><circle cx="265.07" cy="362.26" r="2.55"/><circle cx="273.4" cy="345.22" r="2.55"/><circle cx="266.65" cy="351.78" r="2.55"/><circle cx="244.96" cy="352.26" r="2.55"/><circle cx="289.74" cy="342.57" r="2.55"/><circle cx="275.99" cy="348.13" r="2.55"/><circle cx="239.59" cy="343.96" r="2.55"/><circle cx="293.55" cy="348.43" r="2.55"/><circle cx="276.5" cy="352.86" r="2.55"/><circle cx="280.61" cy="338.71" r="2.55"/><circle cx="267.64" cy="350.95" r="2.55"/><circle cx="269.72" cy="366.72" r="2.55"/><circle cx="307.32" cy="345.5" r="2.55"/><circle cx="276.32" cy="344.32" r="2.55"/><circle cx="240.85" cy="347.56" r="2.55"/><circle cx="236.92" cy="352.86" r="2.55"/><circle cx="294.5" cy="356.29" r="2.55"/><circle cx="284.48" cy="347.7" r="2.55"/><circle cx="302.51" cy="358.7" r="2.55"/><circle cx="263.26" cy="349.89" r="2.55"/><circle cx="311.18" cy="354.51" r="2.55"/><circle cx="272.76" cy="345.94" r="2.55"/><circle cx="246.86" cy="344.32" r="2.55"/><circle cx="275.88" cy="366.8" r="2.55"/><circle cx="232.46" cy="344.14" r="2.55"/><circle cx="236.21" cy="364.31" r="2.55"/><circle cx="294.86" cy="356.3" r="2.55"/><circle cx="234.21" cy="350.52" r="2.55"/><circle cx="252.91" cy="359.01" r="2.55"/><circle cx="297.34" cy="359.46" r="2.55"/><circle cx="243.1" cy="363.43" r="2.55"/><circle cx="238.25" cy="344.7" r="2.55"/><circle cx="286.74" cy="347.73" r="2.55"/><circle cx="282.39" cy="353.25" r="2.55"/><circle cx="237.78" cy="353.83" r="2.55"/><circle cx="267.76" cy="348.31" r="2.55"/><circle cx="275.8" cy="358.89" r="2.55"/><circle cx="273.68" cy="347.68" r="2.55"/><circle cx="239.87" cy="353.2" r="2.55"/><circle cx="256.27" cy="354.29" r="2.55"/><circle cx="292.52" cy="348.3" r="2.55"/><circle cx="259.11" cy="363.48" r="2.55"/><circle cx="251.29" cy="353.05" r="2.55"/><circle cx="246.35" cy="355.3" r="2.55"/><circle cx="297.33" cy="340.12" r="2.55"/><circle cx="262.84" cy="356.51" r="2.55"/><circle cx="286.71" cy="361.04" r="2.55"/><circle cx="288.24" cy="350.33" r="2.55"/><circle cx="263.78" cy="349.36" r="2.55"/><circle cx="236.73" cy="354.3" r="2.55"/><circle cx="251.7" cy="353.7" r="2.55"/><circle cx="301.51" cy="355.2" r="2.55"/><circle cx="253.84" cy="351.83" r="2.55"/><circle cx="243.76" cy="360.21" r="2.55"/><circle cx="252.32" cy="344.64" r="2.55"/><circle cx="250.8" cy="360.3" r="2.55"/><circle cx="231.09" cy="349.45" r="2.55"/><circle cx="269.45" cy="344.3" r="2.55"/><circle cx="231.4" cy="351.28" r="2.55"/><circle cx="238.27" cy="348.9" r="2.55"/><circle cx="255.64" cy="353.22" r="2.55"/><circle cx="278.43" cy="348.18" r="2.55"/><circle cx="289" cy="359.02" r="2.55"/><circle cx="310.76" cy="344.15" r="2.55"/><circle cx="289.66" cy="349.43" r="2.55"/><circle cx="303.25" cy="348.91" r="2.55"/><circle cx="290.44" cy="353.61" r="2.55"/><circle cx="271.85" cy="346.03" r="2.55"/><circle cx="296.18" cy="357.87" r="2.55"/><circle cx="286.31" cy="338.95" r="2.55"/><circle cx="249.63" cy="356.95" r="2.55"/><circle cx="239.5" cy="352.5" r="2.55"/><circle cx="276.24" cy="341.07" r="2.55"/><circle cx="270.63" cy="340.71" r="2.55"/><circle cx="295.61" cy="351.26" r="2.55"/><circle cx="284.4" cy="338.87" r="2.55"/><circle cx="290.68" cy="351.34" r="2.55"/><circle cx="290.08" cy="355.56" r="2.55"/><circle cx="290.93" cy="363.61" r="2.55"/><circle cx="269.8" cy="349.52" r="2.55"/><circle cx="293.12" cy="340.12" r="2.55"/><circle cx="379.1" cy="341.18" r="2.55"/><circle cx="430.05" cy="346.67" r="2.55"/><circle cx="371.69" cy="364.3" r="2.55"/><circle cx="423.96" cy="345.65" r="2.55"/><circle cx="410.66" cy="336.48" r="2.55"/><circle cx="406.37" cy="366.53" r="2.55"/><circle cx="450.13" cy="352.91" r="2.55"/><circle cx="436.6" cy="350.45" r="2.55"/><circle cx="404.93" cy="350.49" r="2.55"/><circle cx="384.52" cy="358.59" r="2.55"/><circle cx="378.62" cy="347.43" r="2.55"/><circle cx="436.63" cy="350.01" r="2.55"/><circle cx="386.28" cy="361.15" r="2.55"/><circle cx="366.81" cy="344.06" r="2.55"/><circle cx="405.04" cy="349.47" r="2.55"/><circle cx="393.52" cy="356.88" r="2.55"/><circle cx="366.65" cy="351.47" r="2.55"/><circle cx="445.71" cy="345.9" r="2.55"/><circle cx="398.32" cy="342.87" r="2.55"/><circle cx="390.03" cy="346.04" r="2.55"/><circle cx="375.2" cy="355.78" r="2.55"/><circle cx="387.82" cy="343.88" r="2.55"/><circle cx="410.19" cy="355.11" r="2.55"/><circle cx="442.1" cy="360.68" r="2.55"/><circle cx="420.44" cy="338.28" r="2.55"/><circle cx="428.02" cy="367.63" r="2.55"/><circle cx="430.85" cy="356.51" r="2.55"/><circle cx="390.97" cy="358.7" r="2.55"/><circle cx="406.87" cy="346.4" r="2.55"/><circle cx="449.97" cy="358.47" r="2.55"/><circle cx="422.59" cy="347.05" r="2.55"/><circle cx="380.81" cy="364.21" r="2.55"/><circle cx="384.27" cy="361.68" r="2.55"/><circle cx="443.99" cy="344.25" r="2.55"/><circle cx="404.97" cy="355.77" r="2.55"/><circle cx="395.74" cy="356.68" r="2.55"/><circle cx="386.95" cy="350.64" r="2.55"/><circle cx="430.6" cy="364.98" r="2.55"/><circle cx="401.89" cy="341.17" r="2.55"/><circle cx="371.81" cy="349.82" r="2.55"/><circle cx="449.24" cy="359.88" r="2.55"/><circle cx="440.27" cy="360.09" r="2.55"/><circle cx="389.67" cy="351.47" r="2.55"/><circle cx="448.06" cy="361.78" r="2.55"/><circle cx="441.13" cy="353.87" r="2.55"/><circle cx="443.08" cy="351.54" r="2.55"/><circle cx="416.7" cy="361.87" r="2.55"/><circle cx="437.09" cy="351.23" r="2.55"/><circle cx="449.63" cy="351.13" r="2.55"/><circle cx="411.16" cy="356.42" r="2.55"/><circle cx="447" cy="348.43" r="2.55"/><circle cx="405.6" cy="336.3" r="2.55"/><circle cx="369.88" cy="352.93" r="2.55"/><circle cx="421.69" cy="343.76" r="2.55"/><circle cx="377.44" cy="351.2" r="2.55"/><circle cx="376.09" cy="366.44" r="2.55"/><circle cx="411.34" cy="342.23" r="2.55"/><circle cx="417.89" cy="346.09" r="2.55"/><circle cx="392.28" cy="357.9" r="2.55"/><circle cx="442.06" cy="343.53" r="2.55"/><circle cx="448.63" cy="352.29" r="2.55"/><circle cx="392.78" cy="363.68" r="2.55"/><circle cx="402.41" cy="353.04" r="2.55"/><circle cx="423.56" cy="358.06" r="2.55"/><circle cx="395.4" cy="347.92" r="2.55"/><circle cx="424.86" cy="357.35" r="2.55"/><circle cx="409.67" cy="359.11" r="2.55"/><circle cx="436.61" cy="352.12" r="2.55"/><circle cx="391.72" cy="358.8" r="2.55"/><circle cx="408.89" cy="354.22" r="2.55"/><circle cx="423.38" cy="358.24" r="2.55"/><circle cx="379.02" cy="345.63" r="2.55"/><circle cx="378.63" cy="355.92" r="2.55"/><circle cx="371.64" cy="365.44" r="2.55"/><circle cx="429.15" cy="350.89" r="2.55"/><circle cx="382.36" cy="367.51" r="2.55"/><circle cx="423.31" cy="344.42" r="2.55"/><circle cx="398.47" cy="348.19" r="2.55"/><circle cx="390.42" cy="356.98" r="2.55"/><circle cx="448.2" cy="353.73" r="2.55"/><circle cx="436.78" cy="360.8" r="2.55"/><circle cx="370.71" cy="341.29" r="2.55"/><circle cx="383" cy="353.07" r="2.55"/><circle cx="443.19" cy="361.84" r="2.55"/><circle cx="432.05" cy="353.31" r="2.55"/><circle cx="369.48" cy="360.5" r="2.55"/><circle cx="430.39" cy="359" r="2.55"/><circle cx="448.38" cy="345.38" r="2.55"/><circle cx="493.22" cy="342.02" r="2.55"/><circle cx="493.2" cy="360.64" r="2.55"/><circle cx="493.08" cy="348.49" r="2.55"/><circle cx="493.15" cy="342.48" r="2.55"/><circle cx="493.57" cy="353.56" r="2.55"/><circle cx="493.59" cy="354.3" r="2.55"/><circle cx="493.55" cy="350.21" r="2.55"/><circle cx="493.51" cy="351.82" r="2.55"/><circle cx="493.53" cy="337" r="2.55"/><circle cx="493.88" cy="345.41" r="2.55"/><circle cx="493.82" cy="342.2" r="2.55"/><circle cx="494.18" cy="347.9" r="2.55"/><circle cx="494.28" cy="339.5" r="2.55"/><circle cx="494.26" cy="348.13" r="2.55"/><circle cx="494.66" cy="343.68" r="2.55"/><circle cx="494.57" cy="352.99" r="2.55"/><circle cx="494.93" cy="356.55" r="2.55"/><circle cx="494.95" cy="361.36" r="2.55"/><circle cx="495.06" cy="338.81" r="2.55"/><circle cx="495.27" cy="345.1" r="2.55"/><circle cx="495.39" cy="356.38" r="2.55"/><circle cx="495.63" cy="327.97" r="2.55"/><circle cx="495.76" cy="346.39" r="2.55"/><circle cx="496.03" cy="348.41" r="2.55"/><circle cx="496.14" cy="354.69" r="2.55"/><circle cx="496.02" cy="352.65" r="2.55"/><circle cx="496.01" cy="347.01" r="2.55"/><circle cx="496.09" cy="351.72" r="2.55"/><circle cx="495.99" cy="338.53" r="2.55"/><circle cx="496.36" cy="357.05" r="2.55"/><circle cx="496.43" cy="331.01" r="2.55"/><circle cx="496.38" cy="353.73" r="2.55"/><circle cx="496.83" cy="338.18" r="2.55"/><circle cx="496.87" cy="348.5" r="2.55"/><circle cx="496.81" cy="338.57" r="2.55"/><circle cx="496.88" cy="351.92" r="2.55"/><circle cx="496.75" cy="343.7" r="2.55"/><circle cx="497.51" cy="337.94" r="2.55"/><circle cx="497.52" cy="344.88" r="2.55"/><circle cx="497.82" cy="345.19" r="2.55"/><circle cx="497.87" cy="338.69" r="2.55"/><circle cx="497.9" cy="343.65" r="2.55"/><circle cx="497.83" cy="327.36" r="2.55"/><circle cx="497.84" cy="344.82" r="2.55"/><circle cx="499" cy="340.44" r="2.55"/><circle cx="499.02" cy="340.04" r="2.55"/><circle cx="499.37" cy="338.17" r="2.55"/><circle cx="499.36" cy="338.73" r="2.55"/><circle cx="499.42" cy="347.36" r="2.55"/><circle cx="500" cy="349.21" r="2.55"/><circle cx="500.12" cy="358.73" r="2.55"/><circle cx="500.1" cy="346.12" r="2.55"/><circle cx="500.47" cy="339.26" r="2.55"/><circle cx="500.42" cy="348.1" r="2.55"/><circle cx="500.39" cy="342.35" r="2.55"/><circle cx="500.44" cy="329.51" r="2.55"/><circle cx="500.74" cy="330.19" r="2.55"/><circle cx="500.8" cy="349.51" r="2.55"/><circle cx="500.73" cy="346.73" r="2.55"/><circle cx="500.74" cy="339.83" r="2.55"/><circle cx="500.74" cy="325.97" r="2.55"/><circle cx="501.1" cy="352.38" r="2.55"/><circle cx="501.11" cy="346.08" r="2.55"/><circle cx="501.24" cy="337.1" r="2.55"/><circle cx="501.47" cy="356.54" r="2.55"/><circle cx="501.58" cy="350.89" r="2.55"/><circle cx="501.59" cy="356.54" r="2.55"/><circle cx="501.86" cy="339.44" r="2.55"/><circle cx="501.83" cy="350.86" r="2.55"/><circle cx="501.85" cy="352.67" r="2.55"/><circle cx="501.85" cy="335.08" r="2.55"/><circle cx="501.84" cy="327.89" r="2.55"/><circle cx="502.66" cy="336.95" r="2.55"/><circle cx="502.59" cy="322.46" r="2.55"/><circle cx="502.61" cy="335.55" r="2.55"/><circle cx="502.61" cy="344.23" r="2.55"/><circle cx="502.59" cy="345.75" r="2.55"/><circle cx="502.71" cy="336.25" r="2.55"/><circle cx="504.41" cy="347.05" r="2.55"/><circle cx="504.48" cy="329.75" r="2.55"/><circle cx="504.85" cy="340.43" r="2.55"/><circle cx="504.74" cy="334.02" r="2.55"/><circle cx="504.78" cy="339.72" r="2.55"/><circle cx="504.83" cy="339.81" r="2.55"/><circle cx="504.76" cy="348.09" r="2.55"/><circle cx="504.78" cy="338.76" r="2.55"/><circle cx="505.6" cy="338.23" r="2.55"/><circle cx="505.48" cy="343.15" r="2.55"/><circle cx="505.56" cy="318.87" r="2.55"/><circle cx="505.55" cy="330.08" r="2.55"/><circle cx="505.48" cy="335.57" r="2.55"/><circle cx="505.84" cy="334.96" r="2.55"/><circle cx="505.99" cy="333.14" r="2.55"/><circle cx="505.87" cy="326.78" r="2.55"/><circle cx="506.28" cy="327.59" r="2.55"/><circle cx="506.3" cy="347.49" r="2.55"/><circle cx="506.29" cy="333.41" r="2.55"/><circle cx="506.57" cy="330.43" r="2.55"/><circle cx="506.6" cy="328.96" r="2.55"/><circle cx="506.58" cy="348.27" r="2.55"/><circle cx="506.6" cy="321.17" r="2.55"/><circle cx="506.67" cy="327.67" r="2.55"/><circle cx="507.3" cy="320.43" r="2.55"/><circle cx="507.32" cy="345.12" r="2.55"/><circle cx="507.32" cy="322.84" r="2.55"/><circle cx="507.71" cy="332.26" r="2.55"/><circle cx="507.77" cy="348.95" r="2.55"/><circle cx="507.82" cy="315.23" r="2.55"/><circle cx="507.8" cy="333.86" r="2.55"/><circle cx="507.77" cy="324.46" r="2.55"/><circle cx="508.11" cy="327.09" r="2.55"/><circle cx="508.03" cy="339.1" r="2.55"/><circle cx="508.76" cy="335.91" r="2.55"/><circle cx="508.85" cy="323.97" r="2.55"/><circle cx="509.15" cy="315.07" r="2.55"/><circle cx="509.2" cy="318.87" r="2.55"/><circle cx="509.23" cy="313.07" r="2.55"/><circle cx="509.15" cy="328.15" r="2.55"/><circle cx="509.98" cy="327.23" r="2.55"/><circle cx="509.89" cy="328.42" r="2.55"/><circle cx="510.26" cy="326.49" r="2.55"/><circle cx="510.27" cy="326.63" r="2.55"/><circle cx="510.36" cy="323.04" r="2.55"/><circle cx="510.31" cy="317.83" r="2.55"/><circle cx="510.64" cy="324.16" r="2.55"/><circle cx="510.63" cy="320.51" r="2.55"/><circle cx="511.33" cy="311.73" r="2.55"/><circle cx="511.34" cy="322.51" r="2.55"/><circle cx="511.38" cy="307.02" r="2.55"/><circle cx="511.38" cy="321.45" r="2.55"/><circle cx="511.76" cy="326.92" r="2.55"/><circle cx="511.7" cy="331.33" r="2.55"/><circle cx="511.82" cy="320.06" r="2.55"/><circle cx="511.76" cy="310.58" r="2.55"/><circle cx="512.1" cy="305.59" r="2.55"/><circle cx="512.18" cy="327.49" r="2.55"/><circle cx="512.47" cy="312.24" r="2.55"/><circle cx="512.5" cy="315.22" r="2.55"/><circle cx="512.42" cy="307.35" r="2.55"/><circle cx="512.4" cy="310.52" r="2.55"/><circle cx="512.87" cy="314.72" r="2.55"/><circle cx="512.89" cy="310.39" r="2.55"/><circle cx="512.78" cy="300.41" r="2.55"/><circle cx="512.79" cy="318.9" r="2.55"/><circle cx="512.88" cy="317.29" r="2.55"/><circle cx="513.22" cy="309.91" r="2.55"/><circle cx="513.16" cy="319.06" r="2.55"/><circle cx="513.29" cy="311.58" r="2.55"/><circle cx="513.23" cy="314.74" r="2.55"/><circle cx="513.56" cy="315.66" r="2.55"/><circle cx="513.6" cy="315.45" r="2.55"/><circle cx="513.5" cy="315.16" r="2.55"/><circle cx="513.62" cy="308.69" r="2.55"/><circle cx="513.9" cy="302.6" r="2.55"/><circle cx="513.86" cy="311.11" r="2.55"/><circle cx="513.95" cy="323.47" r="2.55"/><circle cx="514.36" cy="303.8" r="2.55"/><circle cx="514.27" cy="299.64" r="2.55"/><circle cx="514.24" cy="298.22" r="2.55"/><circle cx="514.32" cy="313.79" r="2.55"/><circle cx="514.29" cy="299.25" r="2.55"/><circle cx="514.33" cy="310.67" r="2.55"/><circle cx="514.71" cy="300.23" r="2.55"/><circle cx="514.59" cy="311.62" r="2.55"/><circle cx="514.61" cy="309.69" r="2.55"/><circle cx="514.6" cy="291.29" r="2.55"/><circle cx="515.03" cy="296.56" r="2.55"/><circle cx="515.02" cy="295.12" r="2.55"/><circle cx="514.98" cy="301.96" r="2.55"/><circle cx="514.97" cy="298.74" r="2.55"/><circle cx="515.01" cy="309.19" r="2.55"/><circle cx="515.46" cy="303.44" r="2.55"/><circle cx="515.42" cy="299.35" r="2.55"/><circle cx="515.38" cy="300.78" r="2.55"/><circle cx="515.47" cy="301.09" r="2.55"/><circle cx="515.34" cy="304.58" r="2.55"/><circle cx="515.8" cy="298.69" r="2.55"/><circle cx="515.7" cy="294.51" r="2.55"/><circle cx="515.75" cy="290.17" r="2.55"/><circle cx="515.8" cy="293.47" r="2.55"/><circle cx="515.81" cy="291.17" r="2.55"/><circle cx="515.79" cy="293.12" r="2.55"/><circle cx="516.1" cy="294.79" r="2.55"/><circle cx="516.15" cy="293.18" r="2.55"/><circle cx="516.19" cy="299.93" r="2.55"/><circle cx="516.06" cy="302.07" r="2.55"/><circle cx="516.49" cy="290.83" r="2.55"/><circle cx="516.44" cy="301.58" r="2.55"/><circle cx="516.46" cy="289.52" r="2.55"/><circle cx="516.83" cy="288.13" r="2.55"/><circle cx="516.92" cy="292.82" r="2.55"/><circle cx="516.87" cy="289.15" r="2.55"/><circle cx="516.88" cy="299.77" r="2.55"/><circle cx="516.8" cy="286.86" r="2.55"/><circle cx="517.25" cy="291.45" r="2.55"/><circle cx="517.27" cy="291.06" r="2.55"/><circle cx="517.23" cy="278.32" r="2.55"/><circle cx="517.18" cy="291.16" r="2.55"/><circle cx="517.24" cy="289.3" r="2.55"/><circle cx="517.61" cy="283.66" r="2.55"/><circle cx="517.56" cy="275.78" r="2.55"/><circle cx="517.61" cy="292.91" r="2.55"/><circle cx="517.51" cy="281.52" r="2.55"/><circle cx="517.56" cy="282.19" r="2.55"/><circle cx="517.99" cy="285.5" r="2.55"/><circle cx="517.89" cy="286.99" r="2.55"/><circle cx="517.97" cy="279.04" r="2.55"/><circle cx="518.02" cy="290.24" r="2.55"/><circle cx="517.92" cy="284.02" r="2.55"/><circle cx="518.3" cy="282.29" r="2.55"/><circle cx="518.28" cy="280.44" r="2.55"/><circle cx="518.36" cy="278.23" r="2.55"/><circle cx="518.33" cy="284.02" r="2.55"/><circle cx="518.36" cy="287.35" r="2.55"/><circle cx="518.66" cy="279.18" r="2.55"/><circle cx="518.6" cy="280.18" r="2.55"/><circle cx="519.11" cy="268.76" r="2.55"/><circle cx="519.06" cy="268.97" r="2.55"/><circle cx="519.07" cy="268.77" r="2.55"/><circle cx="519.07" cy="266.55" r="2.55"/><circle cx="518.99" cy="276.12" r="2.55"/><circle cx="519.09" cy="278.52" r="2.55"/><circle cx="519.2" cy="269.02" r="2.55"/><circle cx="519.26" cy="268.32" r="2.55"/><circle cx="519.35" cy="272.25" r="2.55"/><circle cx="519.4" cy="269.05" r="2.55"/><circle cx="519.5" cy="268.5" r="2.55"/><circle cx="519.56" cy="272.23" r="2.55"/><circle cx="519.65" cy="267.67" r="2.55"/><circle cx="519.71" cy="265.23" r="2.55"/><circle cx="519.77" cy="267" r="2.55"/><circle cx="519.83" cy="271.09" r="2.55"/><circle cx="519.91" cy="264.68" r="2.55"/><circle cx="519.98" cy="269.5" r="2.55"/><circle cx="520.08" cy="263.15" r="2.55"/><circle cx="520.13" cy="262.87" r="2.55"/><circle cx="520.23" cy="255.25" r="2.55"/><circle cx="520.29" cy="262.52" r="2.55"/><circle cx="520.37" cy="257.96" r="2.55"/><circle cx="520.42" cy="254.83" r="2.55"/><circle cx="520.5" cy="252.41" r="2.55"/><circle cx="520.57" cy="259.15" r="2.55"/><circle cx="520.67" cy="252.52" r="2.55"/><circle cx="520.71" cy="256.42" r="2.55"/><circle cx="520.79" cy="253.55" r="2.55"/><circle cx="520.87" cy="253.38" r="2.55"/><circle cx="520.96" cy="248.26" r="2.55"/><circle cx="521.04" cy="248.87" r="2.55"/><circle cx="521.1" cy="244.3" r="2.55"/><circle cx="521.18" cy="246.58" r="2.55"/><circle cx="521.26" cy="246.11" r="2.55"/><circle cx="521.32" cy="241.72" r="2.55"/><circle cx="521.38" cy="242.25" r="2.55"/><circle cx="521.44" cy="249.28" r="2.55"/><circle cx="521.52" cy="241.58" r="2.55"/><circle cx="521.62" cy="244" r="2.55"/><circle cx="521.69" cy="241.36" r="2.55"/><circle cx="521.74" cy="243.59" r="2.55"/><circle cx="521.81" cy="241.37" r="2.55"/><circle cx="521.91" cy="238.41" r="2.55"/><circle cx="521.97" cy="240.76" r="2.55"/><circle cx="522.03" cy="236.29" r="2.55"/><circle cx="523.36" cy="210.05" r="2.55"/><circle cx="523.41" cy="210.98" r="2.55"/><circle cx="523.48" cy="210.13" r="2.55"/><circle cx="523.59" cy="206.67" r="2.55"/><circle cx="523.66" cy="207.77" r="2.55"/><circle cx="523.74" cy="206.31" r="2.55"/><circle cx="523.78" cy="202.04" r="2.55"/><circle cx="523.85" cy="203.97" r="2.55"/><circle cx="523.94" cy="202.53" r="2.55"/><circle cx="524.03" cy="201.49" r="2.55"/><circle cx="524.09" cy="197.01" r="2.55"/><circle cx="524.15" cy="197.56" r="2.55"/><circle cx="524.23" cy="196.39" r="2.55"/><circle cx="524.32" cy="194.75" r="2.55"/><circle cx="524.37" cy="192.77" r="2.55"/><circle cx="524.47" cy="192.75" r="2.55"/><circle cx="524.53" cy="187.63" r="2.55"/><circle cx="524.6" cy="188.02" r="2.55"/><circle cx="524.68" cy="185.85" r="2.55"/><circle cx="524.74" cy="184.34" r="2.55"/><circle cx="524.8" cy="182.38" r="2.55"/><circle cx="524.89" cy="181.48" r="2.55"/><circle cx="524.97" cy="179.89" r="2.55"/><circle cx="525.05" cy="178.48" r="2.55"/><circle cx="525.11" cy="177.51" r="2.55"/><circle cx="525.19" cy="174.34" r="2.55"/><circle cx="525.25" cy="169.8" r="2.55"/><circle cx="525.31" cy="171.95" r="2.55"/><circle cx="525.38" cy="169.03" r="2.55"/><circle cx="525.45" cy="167.2" r="2.55"/><circle cx="525.56" cy="163.61" r="2.55"/><circle cx="525.61" cy="163.93" r="2.55"/><circle cx="525.68" cy="162.39" r="2.55"/><circle cx="525.76" cy="159.31" r="2.55"/><circle cx="525.84" cy="157.87" r="2.55"/><circle cx="525.93" cy="154.15" r="2.55"/><circle cx="525.99" cy="153.45" r="2.55"/><circle cx="526.05" cy="152.52" r="2.55"/><circle cx="526.44" cy="143.49" r="2.55"/><circle cx="526.49" cy="140.5" r="2.55"/><circle cx="526.55" cy="140.59" r="2.55"/><circle cx="526.62" cy="138.22" r="2.55"/><circle cx="526.72" cy="136.43" r="2.55"/><circle cx="526.77" cy="135.48" r="2.55"/><circle cx="526.87" cy="133.7" r="2.55"/><circle cx="526.91" cy="132.46" r="2.55"/><circle cx="526.99" cy="130.94" r="2.55"/><circle cx="527.05" cy="128.62" r="2.55"/><circle cx="528.38" cy="112.4" r="2.55"/><circle cx="528.47" cy="113.72" r="2.55"/><circle cx="528.54" cy="112.69" r="2.55"/><circle cx="528.6" cy="113.94" r="2.55"/><circle cx="528.66" cy="114.1" r="2.55"/><circle cx="528.73" cy="113.84" r="2.55"/><circle cx="528.83" cy="114.55" r="2.55"/><circle cx="528.88" cy="115.87" r="2.55"/><circle cx="528.99" cy="115.92" r="2.55"/><circle cx="529.05" cy="117.84" r="2.55"/><circle cx="529.1" cy="118.21" r="2.55"/><circle cx="529.19" cy="118.47" r="2.55"/><circle cx="529.26" cy="119.9" r="2.55"/><circle cx="529.34" cy="121.38" r="2.55"/><circle cx="529.43" cy="122.47" r="2.55"/><circle cx="529.49" cy="123.51" r="2.55"/><circle cx="529.53" cy="123.95" r="2.55"/><circle cx="529.61" cy="125.68" r="2.55"/><circle cx="529.71" cy="128.53" r="2.55"/><circle cx="529.79" cy="129.82" r="2.55"/><circle cx="529.87" cy="131.26" r="2.55"/><circle cx="529.91" cy="131.6" r="2.55"/><circle cx="529.99" cy="134.66" r="2.55"/><circle cx="530.06" cy="135.7" r="2.55"/><circle cx="530.15" cy="137.88" r="2.55"/><circle cx="530.22" cy="139.96" r="2.55"/><circle cx="530.26" cy="139.29" r="2.55"/><circle cx="530.7" cy="152" r="2.55"/><circle cx="530.78" cy="153.29" r="2.55"/><circle cx="530.87" cy="156.54" r="2.55"/><circle cx="530.94" cy="157" r="2.55"/><circle cx="531" cy="159.07" r="2.55"/><circle cx="531.08" cy="161.18" r="2.55"/><circle cx="531.15" cy="163.45" r="2.55"/><circle cx="531.22" cy="164.88" r="2.55"/><circle cx="531.31" cy="165.09" r="2.55"/><circle cx="531.38" cy="169.66" r="2.55"/><circle cx="531.43" cy="169.13" r="2.55"/><circle cx="531.54" cy="172.8" r="2.55"/><circle cx="531.58" cy="174.01" r="2.55"/><circle cx="531.66" cy="174.72" r="2.55"/><circle cx="531.73" cy="176.9" r="2.55"/><circle cx="531.82" cy="178.9" r="2.55"/><circle cx="531.89" cy="178.42" r="2.55"/><circle cx="531.95" cy="181.61" r="2.55"/><circle cx="533.43" cy="212.82" r="2.55"/><circle cx="533.51" cy="217.14" r="2.55"/><circle cx="533.56" cy="214.53" r="2.55"/><circle cx="533.64" cy="218.56" r="2.55"/><circle cx="533.69" cy="217.88" r="2.55"/><circle cx="533.78" cy="221.15" r="2.55"/><circle cx="533.84" cy="222.77" r="2.55"/><circle cx="533.92" cy="224.34" r="2.55"/><circle cx="533.99" cy="220.17" r="2.55"/><circle cx="534.09" cy="225.86" r="2.55"/><circle cx="534.16" cy="226.4" r="2.55"/><circle cx="534.24" cy="225.17" r="2.55"/><circle cx="534.29" cy="228.25" r="2.55"/><circle cx="534.37" cy="226.69" r="2.55"/><circle cx="534.44" cy="235.47" r="2.55"/><circle cx="534.52" cy="233.52" r="2.55"/><circle cx="534.58" cy="232.74" r="2.55"/><circle cx="534.67" cy="237.28" r="2.55"/><circle cx="534.74" cy="233.96" r="2.55"/><circle cx="535.81" cy="247.43" r="2.55"/><circle cx="535.91" cy="250.71" r="2.55"/><circle cx="535.95" cy="251.12" r="2.55"/><circle cx="536.05" cy="260.02" r="2.55"/><circle cx="536.12" cy="252.91" r="2.55"/><circle cx="536.19" cy="255.36" r="2.55"/><circle cx="536.27" cy="255.72" r="2.55"/><circle cx="536.32" cy="258.59" r="2.55"/><circle cx="536.43" cy="255.39" r="2.55"/><circle cx="536.5" cy="260.12" r="2.55"/><circle cx="536.56" cy="259.05" r="2.55"/><circle cx="536.62" cy="260.46" r="2.55"/><circle cx="536.68" cy="263.83" r="2.55"/><circle cx="536.76" cy="267.58" r="2.55"/><circle cx="536.86" cy="265.28" r="2.55"/><circle cx="536.91" cy="265.02" r="2.55"/><circle cx="537" cy="265.88" r="2.55"/><circle cx="537.07" cy="266.87" r="2.55"/><circle cx="537.14" cy="269.87" r="2.55"/><circle cx="537.22" cy="267.29" r="2.55"/><circle cx="537.28" cy="271.81" r="2.55"/><circle cx="537.35" cy="266.4" r="2.55"/><circle cx="537.56" cy="274.62" r="2.55"/><circle cx="537.61" cy="269.59" r="2.55"/><circle cx="537.61" cy="266.41" r="2.55"/><circle cx="538.32" cy="270.11" r="2.55"/><circle cx="538.33" cy="285.41" r="2.55"/><circle cx="538.31" cy="280.43" r="2.55"/><circle cx="538.3" cy="277.93" r="2.55"/><circle cx="538.36" cy="287.67" r="2.55"/><circle cx="538.71" cy="283.58" r="2.55"/><circle cx="538.75" cy="287.46" r="2.55"/><circle cx="538.73" cy="285.31" r="2.55"/><circle cx="539.84" cy="301.44" r="2.55"/><circle cx="539.79" cy="288.54" r="2.55"/><circle cx="539.77" cy="288.92" r="2.55"/><circle cx="539.84" cy="290.52" r="2.55"/><circle cx="539.85" cy="300.55" r="2.55"/><circle cx="540.23" cy="291.34" r="2.55"/><circle cx="540.14" cy="285.28" r="2.55"/><circle cx="540.12" cy="301.91" r="2.55"/><circle cx="540.14" cy="288.96" r="2.55"/><circle cx="540.13" cy="291.43" r="2.55"/><circle cx="540.6" cy="306.92" r="2.55"/><circle cx="540.62" cy="300.15" r="2.55"/><circle cx="540.59" cy="300.22" r="2.55"/><circle cx="540.53" cy="289.73" r="2.55"/><circle cx="540.52" cy="300.67" r="2.55"/><circle cx="540.87" cy="308.16" r="2.55"/><circle cx="540.96" cy="307.69" r="2.55"/><circle cx="541.28" cy="301.5" r="2.55"/><circle cx="541.3" cy="298.06" r="2.55"/><circle cx="541.36" cy="297.97" r="2.55"/><circle cx="541.68" cy="302.03" r="2.55"/><circle cx="541.72" cy="311.85" r="2.55"/><circle cx="541.72" cy="310.61" r="2.55"/><circle cx="541.67" cy="298.24" r="2.55"/><circle cx="541.58" cy="298.81" r="2.55"/><circle cx="542.46" cy="318.1" r="2.55"/><circle cx="542.34" cy="301.58" r="2.55"/><circle cx="542.37" cy="306.55" r="2.55"/><circle cx="542.38" cy="303.02" r="2.55"/><circle cx="542.38" cy="296.36" r="2.55"/><circle cx="542.8" cy="311.1" r="2.55"/><circle cx="542.82" cy="302.36" r="2.55"/><circle cx="542.76" cy="311.3" r="2.55"/><circle cx="542.7" cy="312.72" r="2.55"/><circle cx="542.82" cy="312.83" r="2.55"/><circle cx="542.77" cy="314.84" r="2.55"/><circle cx="543.14" cy="311.76" r="2.55"/><circle cx="543.1" cy="316.16" r="2.55"/><circle cx="543.09" cy="306.9" r="2.55"/><circle cx="543.12" cy="324.53" r="2.55"/><circle cx="543.16" cy="300.68" r="2.55"/><circle cx="543.55" cy="309.83" r="2.55"/><circle cx="543.46" cy="315.71" r="2.55"/><circle cx="543.47" cy="323.01" r="2.55"/><circle cx="543.54" cy="312.13" r="2.55"/><circle cx="543.55" cy="316.42" r="2.55"/><circle cx="543.47" cy="307.78" r="2.55"/><circle cx="543.92" cy="312.47" r="2.55"/><circle cx="543.77" cy="310.27" r="2.55"/><circle cx="543.78" cy="306.87" r="2.55"/><circle cx="543.85" cy="315.11" r="2.55"/><circle cx="543.91" cy="308.8" r="2.55"/><circle cx="544.23" cy="308.36" r="2.55"/><circle cx="544.25" cy="323.27" r="2.55"/><circle cx="544.18" cy="317.13" r="2.55"/><circle cx="544.21" cy="324.6" r="2.55"/><circle cx="544.61" cy="311.11" r="2.55"/><circle cx="544.52" cy="320.22" r="2.55"/><circle cx="544.58" cy="312.01" r="2.55"/><circle cx="544.62" cy="317.92" r="2.55"/><circle cx="545" cy="321.31" r="2.55"/><circle cx="544.93" cy="314.73" r="2.55"/><circle cx="544.95" cy="319.03" r="2.55"/><circle cx="544.96" cy="323.12" r="2.55"/><circle cx="544.87" cy="325.39" r="2.55"/><circle cx="545.25" cy="318.84" r="2.55"/><circle cx="545.35" cy="321.83" r="2.55"/><circle cx="545.24" cy="322.3" r="2.55"/><circle cx="546.06" cy="323.97" r="2.55"/><circle cx="546.09" cy="326.19" r="2.55"/><circle cx="546.4" cy="329.37" r="2.55"/><circle cx="546.4" cy="316.08" r="2.55"/><circle cx="546.41" cy="323.17" r="2.55"/><circle cx="546.38" cy="321.5" r="2.55"/><circle cx="546.78" cy="323.13" r="2.55"/><circle cx="546.77" cy="333.36" r="2.55"/><circle cx="546.72" cy="322.42" r="2.55"/><circle cx="546.82" cy="330.05" r="2.55"/><circle cx="547.06" cy="326.79" r="2.55"/><circle cx="547.13" cy="332.87" r="2.55"/><circle cx="547.42" cy="324.41" r="2.55"/><circle cx="547.55" cy="323.7" r="2.55"/><circle cx="547.45" cy="325.88" r="2.55"/><circle cx="547.49" cy="327.04" r="2.55"/><circle cx="547.88" cy="337.12" r="2.55"/><circle cx="547.92" cy="314.44" r="2.55"/><circle cx="547.9" cy="322.03" r="2.55"/><circle cx="547.85" cy="313.32" r="2.55"/><circle cx="547.87" cy="327.45" r="2.55"/><circle cx="547.85" cy="316.68" r="2.55"/><circle cx="548.63" cy="332.94" r="2.55"/><circle cx="548.63" cy="335.37" r="2.55"/><circle cx="548.5" cy="331.72" r="2.55"/><circle cx="548.53" cy="325.97" r="2.55"/><circle cx="548.64" cy="341.72" r="2.55"/><circle cx="549.26" cy="331.18" r="2.55"/><circle cx="549.34" cy="324.32" r="2.55"/><circle cx="549.25" cy="322.33" r="2.55"/><circle cx="549.35" cy="340.88" r="2.55"/><circle cx="549.65" cy="327.16" r="2.55"/><circle cx="549.74" cy="342.01" r="2.55"/><circle cx="549.96" cy="341.46" r="2.55"/><circle cx="550.04" cy="332.39" r="2.55"/><circle cx="550" cy="343.81" r="2.55"/><circle cx="550.07" cy="348.1" r="2.55"/><circle cx="550.05" cy="332.99" r="2.55"/><circle cx="550.32" cy="331.03" r="2.55"/><circle cx="550.47" cy="337.68" r="2.55"/><circle cx="550.33" cy="339.71" r="2.55"/><circle cx="550.39" cy="347.24" r="2.55"/><circle cx="550.35" cy="338.14" r="2.55"/><circle cx="550.75" cy="327.64" r="2.55"/><circle cx="550.74" cy="342.04" r="2.55"/><circle cx="551.11" cy="343.33" r="2.55"/><circle cx="551.21" cy="332.24" r="2.55"/><circle cx="551.09" cy="341.71" r="2.55"/><circle cx="551.2" cy="326.2" r="2.55"/><circle cx="551.07" cy="327.67" r="2.55"/><circle cx="551.47" cy="325.89" r="2.55"/><circle cx="551.53" cy="330.85" r="2.55"/><circle cx="551.56" cy="340.25" r="2.55"/><circle cx="551.51" cy="338.73" r="2.55"/><circle cx="551.92" cy="347.84" r="2.55"/><circle cx="551.91" cy="331.61" r="2.55"/><circle cx="551.86" cy="331.18" r="2.55"/><circle cx="552.26" cy="331.07" r="2.55"/><circle cx="552.29" cy="338.87" r="2.55"/><circle cx="552.53" cy="327.64" r="2.55"/><circle cx="552.66" cy="333.41" r="2.55"/><circle cx="552.64" cy="329.95" r="2.55"/><circle cx="552.61" cy="345.52" r="2.55"/><circle cx="552.89" cy="348.16" r="2.55"/><circle cx="553.03" cy="331.83" r="2.55"/><circle cx="552.95" cy="334.23" r="2.55"/><circle cx="552.99" cy="334.5" r="2.55"/><circle cx="553.28" cy="319.74" r="2.55"/><circle cx="553.24" cy="341.6" r="2.55"/><circle cx="553.28" cy="343.94" r="2.55"/><circle cx="553.65" cy="334.92" r="2.55"/><circle cx="553.61" cy="338.67" r="2.55"/><circle cx="553.61" cy="352.52" r="2.55"/><circle cx="553.72" cy="345.72" r="2.55"/><circle cx="553.65" cy="337.85" r="2.55"/><circle cx="553.61" cy="337.57" r="2.55"/><circle cx="554.4" cy="336.37" r="2.55"/><circle cx="554.4" cy="332.77" r="2.55"/><circle cx="554.44" cy="334.73" r="2.55"/><circle cx="554.38" cy="348.14" r="2.55"/><circle cx="554.34" cy="349.29" r="2.55"/><circle cx="554.81" cy="335.21" r="2.55"/><circle cx="554.72" cy="345.82" r="2.55"/><circle cx="554.84" cy="340.85" r="2.55"/><circle cx="554.76" cy="332.96" r="2.55"/><circle cx="554.72" cy="350.65" r="2.55"/><circle cx="554.79" cy="341.6" r="2.55"/><circle cx="555.19" cy="352.26" r="2.55"/><circle cx="555.19" cy="349.79" r="2.55"/><circle cx="555.45" cy="339.51" r="2.55"/><circle cx="555.51" cy="332.66" r="2.55"/><circle cx="555.59" cy="328.8" r="2.55"/><circle cx="555.55" cy="342.65" r="2.55"/><circle cx="555.83" cy="342.3" r="2.55"/><circle cx="555.83" cy="330.25" r="2.55"/><circle cx="555.93" cy="332.68" r="2.55"/><circle cx="555.92" cy="333.49" r="2.55"/><circle cx="555.86" cy="339.84" r="2.55"/><circle cx="555.83" cy="356.85" r="2.55"/><circle cx="556.17" cy="331.92" r="2.55"/><circle cx="556.17" cy="336.25" r="2.55"/><circle cx="557.31" cy="335.65" r="2.55"/><circle cx="557.31" cy="333.14" r="2.55"/><circle cx="558.1" cy="328.86" r="2.55"/><circle cx="558.38" cy="344.13" r="2.55"/><circle cx="558.74" cy="331.23" r="2.55"/><circle cx="559.58" cy="348.94" r="2.55"/><circle cx="559.85" cy="339.38" r="2.55"/><circle cx="560.31" cy="344.73" r="2.55"/><circle cx="560.57" cy="352.57" r="2.55"/><circle cx="561.27" cy="346.68" r="2.55"/><circle cx="562.1" cy="336.32" r="2.55"/><circle cx="563.47" cy="345.99" r="2.55"/><circle cx="563.83" cy="342.49" r="2.55"/><circle cx="564.32" cy="348.98" r="2.55"/><circle cx="565.74" cy="346.93" r="2.55"/><circle cx="565.75" cy="346.85" r="2.55"/><circle cx="567.26" cy="344.92" r="2.55"/><circle cx="568.58" cy="347.3" r="2.55"/><circle cx="568.61" cy="337.53" r="2.55"/><circle cx="569.44" cy="362.84" r="2.55"/><circle cx="570.13" cy="329.25" r="2.55"/><circle cx="570.39" cy="358.87" r="2.55"/><circle cx="570.9" cy="351.51" r="2.55"/><circle cx="570.8" cy="358.19" r="2.55"/><circle cx="571.22" cy="351.25" r="2.55"/><circle cx="573" cy="357.86" r="2.55"/><circle cx="574.84" cy="347.81" r="2.55"/><circle cx="575.24" cy="366.32" r="2.55"/><circle cx="575.98" cy="348.54" r="2.55"/><circle cx="577" cy="342.67" r="2.55"/><circle cx="577.31" cy="340.55" r="2.55"/><circle cx="578.09" cy="341.23" r="2.55"/><circle cx="579.9" cy="347.4" r="2.55"/><circle cx="581.06" cy="363.84" r="2.55"/></g>
<polyline points="89.7,351.4 90.79,351.4 91.89,351.4 92.98,351.4 94.08,351.4 95.17,351.4 96.26,351.4 97.36,351.4 98.45,351.4 99.55,351.4 100.64,351.4 101.73,351.4 102.83,351.4 103.92,351.4 105.02,351.4 106.11,351.4 107.2,351.4 108.3,351.4 109.39,351.4 110.49,351.4 111.58,351.4 112.67,351.4 113.77,351.4 114.86,351.4 115.96,351.4 117.05,351.4 118.14,351.4 119.24,351.4 120.33,351.4 121.43,351.4 122.52,351.4 123.61,351.4 124.71,351.4 125.8,351.4 126.9,351.4 127.99,351.4 129.08,351.4 130.18,351.4 131.27,351.4 132.37,351.4 133.46,351.4 134.55,351.4 135.65,351.4 136.74,351.4 137.84,351.4 138.93,351.4 140.02,351.4 141.12,351.4 142.21,351.4 143.31,351.4 144.4,351.4 145.49,351.4 146.59,351.4 147.68,351.4 148.78,351.4 149.87,351.4 150.96,351.4 152.06,351.4 153.15,351.4 154.25,351.4 155.34,351.4 156.43,351.4 157.53,351.4 158.62,351.4 159.72,351.4 160.81,351.4 161.9,351.4 163,351.4 164.09,351.4 165.19,351.4 166.28,351.4 167.37,351.4 168.47,351.4 169.56,351.4 170.66,351.4 171.75,351.4 172.84,351.4 173.94,351.4 175.03,351.4 176.13,351.4 177.22,351.4 178.31,351.4 179.41,351.4 180.5,351.4 181.6,351.4 182.69,351.4 183.78,351.4 184.88,351.4 185.97,351.4 187.07,351.4 188.16,351.4 189.25,351.4 190.35,351.4 191.44,351.4 192.54,351.4 193.63,351.4 194.72,351.4 195.82,351.4 196.91,351.4 198.01,351.4 199.1,351.4 200.2,351.4 201.29,351.4 202.38,351.4 203.48,351.4 204.57,351.4 205.67,351.4 206.76,351.4 207.85,351.4 208.95,351.4 210.04,351.4 211.14,351.4 212.23,351.4 213.32,351.4 214.42,351.4 215.51,351.4 216.61,351.4 217.7,351.4 218.79,351.4 219.89,351.4 220.98,351.4 222.08,351.4 223.17,351.4 224.26,351.4 225.36,351.4 226.45,351.4 227.55,351.4 228.64,351.4 229.73,351.4 230.83,351.4 231.92,351.4 233.02,351.4 234.11,351.4 235.2,351.4 236.3,351.4 237.39,351.4 238.49,351.4 239.58,351.4 240.67,351.4 241.77,351.4 242.86,351.4 243.96,351.4 245.05,351.4 246.14,351.4 247.24,351.4 248.33,351.4 249.43,351.4 250.52,351.4 251.61,351.4 252.71,351.4 253.8,351.4 254.9,351.4 255.99,351.4 257.08,351.4 258.18,351.4 259.27,351.4 260.37,351.4 261.46,351.4 262.55,351.4 263.65,351.4 264.74,351.4 265.84,351.4 266.93,351.4 268.02,351.4 269.12,351.4 270.21,351.4 271.31,351.4 272.4,351.4 273.49,351.4 274.59,351.4 275.68,351.4 276.78,351.4 277.87,351.4 278.96,351.4 280.06,351.4 281.15,351.4 282.25,351.4 283.34,351.4 284.43,351.4 285.53,351.4 286.62,351.4 287.72,351.4 288.81,351.4 289.9,351.4 291,351.4 292.09,351.4 293.19,351.4 294.28,351.4 295.37,351.4 296.47,351.4 297.56,351.4 298.66,351.4 299.75,351.39 300.84,351.39 301.94,351.39 303.03,351.39 304.13,351.39 305.22,351.39 306.31,351.39 307.41,351.39 308.5,351.39 309.6,351.39 310.69,351.39 311.78,351.39 312.88,351.39 313.97,351.39 315.07,351.39 316.16,351.39 317.25,351.39 318.35,351.39 319.44,351.39 320.54,351.39 321.63,351.39 322.72,351.39 323.82,351.39 324.91,351.39 326.01,351.39 327.1,351.39 328.19,351.39 329.29,351.39 330.38,351.39 331.48,351.39 332.57,351.39 333.66,351.39 334.76,351.39 335.85,351.39 336.95,351.39 338.04,351.39 339.13,351.39 340.23,351.39 341.32,351.39 342.42,351.39 343.51,351.39 344.6,351.39 345.7,351.39 346.79,351.39 347.89,351.39 348.98,351.39 350.07,351.39 351.17,351.39 352.26,351.39 353.36,351.39 354.45,351.39 355.54,351.38 356.64,351.38 357.73,351.38 358.83,351.38 359.92,351.38 361.01,351.38 362.11,351.38 363.2,351.38 364.3,351.38 365.39,351.38 366.48,351.38 367.58,351.38 368.67,351.38 369.77,351.38 370.86,351.38 371.95,351.38 373.05,351.38 374.14,351.38 375.24,351.38 376.33,351.37 377.42,351.37 378.52,351.37 379.61,351.37 380.71,351.37 381.8,351.37 382.89,351.37 383.99,351.37 385.08,351.37 386.18,351.37 387.27,351.37 388.36,351.37 389.46,351.36 390.55,351.36 391.65,351.36 392.74,351.36 393.83,351.36 394.93,351.36 396.02,351.36 397.12,351.36 398.21,351.35 399.3,351.35 400.4,351.35 401.49,351.35 402.59,351.35 403.68,351.35 404.77,351.34 405.87,351.34 406.96,351.34 408.06,351.34 409.15,351.34 410.24,351.33 411.34,351.33 412.43,351.33 413.53,351.32 414.62,351.32 415.71,351.32 416.81,351.32 417.9,351.31 419,351.31 420.09,351.31 421.19,351.3 422.28,351.3 423.37,351.29 424.47,351.29 425.56,351.29 426.66,351.28 427.75,351.28 428.84,351.27 429.94,351.26 431.03,351.26 432.13,351.25 433.22,351.25 434.31,351.24 435.41,351.23 436.5,351.22 437.6,351.22 438.69,351.21 439.78,351.2 440.88,351.19 441.97,351.18 443.07,351.17 444.16,351.15 445.25,351.14 446.35,351.13 447.44,351.12 448.54,351.1 449.63,351.08 450.72,351.07 451.82,351.05 452.91,351.03 454.01,351.01 455.1,350.99 456.19,350.96 457.29,350.94 458.38,350.91 459.48,350.88 460.57,350.85 461.66,350.82 462.76,350.78 463.85,350.74 464.95,350.7 466.04,350.66 467.13,350.61 468.23,350.56 469.32,350.5 470.42,350.44 471.51,350.37 472.6,350.3 473.7,350.22 474.79,350.13 475.89,350.04 476.98,349.94 478.07,349.82 479.17,349.7 480.26,349.57 481.36,349.42 482.45,349.26 483.54,349.08 484.64,348.88 485.73,348.67 486.83,348.43 487.92,348.16 489.01,347.87 490.11,347.54 491.2,347.17 492.3,346.77 493.39,346.32 494.48,345.81 495.58,345.24 496.67,344.6 497.77,343.89 498.86,343.08 499.95,342.17 501.05,341.14 502.14,339.97 503.24,338.65 504.33,337.15 505.42,335.43 506.52,333.48 507.61,331.24 507.7,331.04 507.79,330.84 507.89,330.64 507.98,330.43 508.07,330.22 508.16,330.01 508.25,329.79 508.34,329.58 508.43,329.36 508.52,329.14 508.61,328.91 508.71,328.69 508.8,328.46 508.89,328.23 508.98,327.99 509.07,327.75 509.16,327.51 509.25,327.27 509.34,327.03 509.44,326.78 509.53,326.53 509.62,326.27 509.71,326.01 509.8,325.75 509.89,325.49 509.98,325.22 510.07,324.95 510.16,324.68 510.26,324.41 510.35,324.13 510.44,323.84 510.53,323.56 510.62,323.27 510.71,322.98 510.8,322.68 510.89,322.38 510.99,322.08 511.08,321.77 511.17,321.46 511.26,321.15 511.35,320.83 511.44,320.51 511.53,320.19 511.62,319.86 511.71,319.53 511.81,319.19 511.9,318.85 511.99,318.5 512.08,318.15 512.17,317.8 512.26,317.44 512.35,317.08 512.44,316.72 512.53,316.35 512.63,315.97 512.72,315.59 512.81,315.21 512.9,314.82 512.99,314.43 513.08,314.03 513.17,313.63 513.26,313.22 513.36,312.81 513.45,312.39 513.54,311.97 513.63,311.54 513.72,311.1 513.81,310.67 513.9,310.22 513.99,309.77 514.08,309.32 514.18,308.86 514.27,308.39 514.36,307.92 514.45,307.44 514.54,306.96 514.63,306.47 514.72,305.98 514.81,305.48 514.91,304.97 515,304.45 515.09,303.93 515.18,303.41 515.27,302.87 515.36,302.33 515.45,301.79 515.54,301.23 515.63,300.67 515.73,300.11 515.82,299.53 515.91,298.95 516,298.36 516.09,297.76 516.18,297.16 516.27,296.55 516.36,295.93 516.46,295.3 516.55,294.67 516.64,294.02 516.73,293.37 516.82,292.71 516.91,292.04 517,291.37 517.09,290.68 517.18,289.99 517.28,289.29 517.37,288.57 517.46,287.85 517.55,287.12 517.64,286.38 517.73,285.63 517.82,284.87 517.91,284.11 518,283.33 518.1,282.54 518.19,281.74 518.28,280.93 518.37,280.11 518.46,279.28 518.55,278.44 518.64,277.58 518.73,276.72 518.83,275.84 518.92,274.96 519.01,274.06 519.1,273.15 519.19,272.22 519.28,271.29 519.37,270.34 519.46,269.38 519.55,268.41 519.65,267.42 519.74,266.42 519.83,265.41 519.92,264.38 520.01,263.34 520.1,262.29 520.19,261.22 520.28,260.14 520.38,259.04 520.47,257.93 520.56,256.8 520.65,255.66 520.74,254.5 520.83,253.32 520.92,252.13 521.01,250.93 521.1,249.7 521.2,248.46 521.29,247.2 521.38,245.93 521.47,244.64 521.56,243.32 521.65,242 521.74,240.65 521.83,239.28 521.93,237.9 522.02,236.49 522.11,235.07 522.2,233.62 522.29,232.16 522.38,230.68 522.47,229.17 522.56,227.65 522.65,226.1 522.75,224.53 522.84,222.94 522.93,221.33 523.02,219.69 523.11,218.03 523.2,216.35 523.29,214.65 523.38,212.92 523.47,211.17 523.57,209.4 523.66,207.6 523.75,205.78 523.84,203.93 523.93,202.06 524.02,200.17 524.11,198.25 524.2,196.31 524.3,194.34 524.39,192.35 524.48,190.33 524.57,188.29 524.66,186.23 524.75,184.15 524.84,182.04 524.93,179.91 525.02,177.76 525.12,175.6 525.21,173.41 525.3,171.2 525.39,168.98 525.48,166.74 525.57,164.49 525.66,162.23 525.75,159.96 525.85,157.69 525.94,155.41 526.03,153.13 526.12,150.85 526.21,148.58 526.3,146.33 526.39,144.09 526.48,141.87 526.57,139.68 526.67,137.52 526.76,135.4 526.85,133.33 526.94,131.31 527.03,129.35 527.12,127.46 527.21,125.65 527.3,123.93 527.4,122.3 527.49,120.77 527.58,119.36 527.67,118.07 527.76,116.91 527.85,115.88 527.94,115 528.03,114.27 528.12,113.7 528.22,113.28 528.31,113.03 528.4,112.95 528.49,113.02 528.58,113.27 528.67,113.68 528.76,114.24 528.85,114.97 528.95,115.84 529.04,116.86 529.13,118.02 529.22,119.3 529.31,120.71 529.4,122.23 529.49,123.85 529.58,125.57 529.67,127.38 529.77,129.27 529.86,131.22 529.95,133.24 530.04,135.31 530.13,137.42 530.22,139.58 530.31,141.77 530.4,143.99 530.49,146.23 530.59,148.49 530.68,150.75 530.77,153.03 530.86,155.31 530.95,157.59 531.04,159.86 531.13,162.13 531.22,164.39 531.32,166.64 531.41,168.88 531.5,171.11 531.59,173.31 531.68,175.5 531.77,177.67 531.86,179.82 531.95,181.95 532.04,184.06 532.14,186.14 532.23,188.21 532.32,190.24 532.41,192.26 532.5,194.25 532.59,196.22 532.68,198.16 532.77,200.08 532.87,201.98 532.96,203.85 533.05,205.7 533.14,207.52 533.23,209.32 533.32,211.09 533.41,212.85 533.5,214.57 533.59,216.28 533.69,217.96 533.78,219.62 533.87,221.25 533.96,222.87 534.05,224.46 534.14,226.03 534.23,227.58 534.32,229.11 534.42,230.61 534.51,232.1 534.6,233.56 534.69,235.01 534.78,236.43 534.87,237.84 534.96,239.22 535.05,240.59 535.14,241.94 535.24,243.27 535.33,244.58 535.42,245.87 535.51,247.15 535.6,248.41 535.69,249.65 535.78,250.87 535.87,252.08 535.96,253.27 536.06,254.45 536.15,255.61 536.24,256.75 536.33,257.88 536.42,258.99 536.51,260.09 536.6,261.17 536.69,262.24 536.79,263.3 536.88,264.34 536.97,265.37 537.06,266.38 537.15,267.38 537.24,268.37 537.33,269.34 537.42,270.3 537.51,271.25 537.61,272.18 537.7,273.11 537.79,274.02 537.88,274.92 537.97,275.8 538.06,276.68 538.15,277.55 538.24,278.4 538.34,279.24 538.43,280.07 538.52,280.89 538.61,281.7 538.7,282.5 538.79,283.29 538.88,284.07 538.97,284.84 539.06,285.6 539.16,286.35 539.25,287.09 539.34,287.82 539.43,288.54 539.52,289.26 539.61,289.96 539.7,290.65 539.79,291.34 539.89,292.02 539.98,292.68 540.07,293.34 540.16,294 540.25,294.64 540.34,295.27 540.43,295.9 540.52,296.52 540.61,297.13 540.71,297.74 540.8,298.33 540.89,298.92 540.98,299.51 541.07,300.08 541.16,300.65 541.25,301.21 541.34,301.76 541.43,302.31 541.53,302.85 541.62,303.38 541.71,303.91 541.8,304.43 541.89,304.95 541.98,305.45 542.07,305.95 542.16,306.45 542.26,306.94 542.35,307.42 542.44,307.9 542.53,308.37 542.62,308.84 542.71,309.3 542.8,309.75 542.89,310.2 542.98,310.65 543.08,311.09 543.17,311.52 543.26,311.95 543.35,312.37 543.44,312.79 543.53,313.2 543.62,313.61 543.71,314.01 543.81,314.41 543.9,314.8 543.99,315.19 544.08,315.58 544.17,315.95 544.26,316.33 544.35,316.7 544.44,317.07 544.53,317.43 544.63,317.79 544.72,318.14 544.81,318.49 544.9,318.83 544.99,319.17 545.08,319.51 545.17,319.84 545.26,320.17 545.36,320.5 545.45,320.82 545.54,321.14 545.63,321.45 545.72,321.76 545.81,322.07 545.9,322.37 545.99,322.67 546.08,322.97 546.18,323.26 546.27,323.55 546.36,323.83 546.45,324.11 546.54,324.39 546.63,324.67 546.72,324.94 546.81,325.21 546.91,325.48 547,325.74 547.09,326 547.18,326.26 547.27,326.51 547.36,326.77 547.45,327.01 547.54,327.26 547.63,327.5 547.73,327.74 547.82,327.98 547.91,328.22 548,328.45 548.09,328.68 548.18,328.9 548.27,329.13 548.36,329.35 548.45,329.57 548.55,329.79 548.64,330 548.73,330.21 548.82,330.42 548.91,330.63 549,330.83 549.09,331.04 549.18,331.24 549.28,331.43 549.37,331.63 549.46,331.82 549.55,332.01 549.64,332.2 549.73,332.39 549.82,332.58 549.91,332.76 550,332.94 550.1,333.12 550.19,333.3 550.28,333.47 550.37,333.64 551.46,335.58 552.56,337.27 553.65,338.76 554.75,340.07 555.84,341.23 556.93,342.25 558.03,343.15 559.12,343.95 560.22,344.66 561.31,345.29 562.4,345.85 563.5,346.35 564.59,346.8 565.69,347.2 566.78,347.57 567.87,347.89 568.97,348.18 570.06,348.45 571.16,348.68 572.25,348.9 573.34,349.09 574.44,349.27 575.53,349.43 576.63,349.58 577.72,349.71 578.81,349.83 579.91,349.95 581,350.05 582.1,350.14 583.19,350.23 584.28,350.3 585.38,350.38 586.47,350.44 587.5,350.5" fill="none" stroke="#ff00ff" stroke-width="0.8"/>
<path d="M122.4 62.5v19.3M122.4 437.1v-19.3M158.87 62.5v9.5M158.87 437.1v-9.5M195.33 62.5v9.5M195.33 437.1v-9.5M231.8 62.5v9.5M231.8 437.1v-9.5M268.27 62.5v9.5M268.27 437.1v-9.5M304.74 62.5v19.3M304.74 437.1v-19.3M341.2 62.5v9.5M341.2 437.1v-9.5M377.67 62.5v9.5M377.67 437.1v-9.5M414.14 62.5v9.5M414.14 437.1v-9.5M450.6 62.5v9.5M450.6 437.1v-9.5M487.07 62.5v19.3M487.07 437.1v-19.3M523.54 62.5v9.5M523.54 437.1v-9.5M560 62.5v9.5M560 437.1v-9.5M87.5 72.19h9.5M587.5 72.19h-9.5M87.5 96.75h9.5M587.5 96.75h-9.5M87.5 121.31h9.5M587.5 121.31h-9.5M87.5 145.87h19.3M587.5 145.87h-19.3M87.5 170.43h9.5M587.5 170.43h-9.5M87.5 194.99h9.5M587.5 194.99h-9.5M87.5 219.55h9.5M587.5 219.55h-9.5M87.5 244.11h9.5M587.5 244.11h-9.5M87.5 268.67h19.3M587.5 268.67h-19.3M87.5 293.23h9.5M587.5 293.23h-9.5M87.5 317.79h9.5M587.5 317.79h-9.5M87.5 342.35h9.5M587.5 342.35h-9.5M87.5 366.91h9.5M587.5 366.91h-9.5M87.5 391.47h19.3M587.5 391.47h-19.3M87.5 416.03h9.5M587.5 416.03h-9.5" fill="none" stroke="#000" stroke-width="0.9"/>
<g font-family="'DejaVu Serif', 'Liberation Serif', serif" font-size="17.6" letter-spacing="-0.15" fill="#000" stroke="#000" stroke-width="0.3"><text x="337.4" y="40.6" text-anchor="middle" letter-spacing="-0.05">OGLE-2019-BLG-0467</text><text x="122.22" y="462.6" text-anchor="middle" letter-spacing="-0.55">7500</text><text x="304.33" y="462.6" text-anchor="middle" letter-spacing="-0.55">8000</text><text x="486.43" y="462.6" text-anchor="middle" letter-spacing="-0.55">8500</text><text x="78.45" y="152.77" text-anchor="end" letter-spacing="-0.15">18</text><text x="78.45" y="275.57" text-anchor="end" letter-spacing="-0.15">19</text><text x="78.45" y="398.37" text-anchor="end" letter-spacing="-0.15">20</text><text x="273.2" y="491.7" text-anchor="start" letter-spacing="-0.3">H<tspan font-family="'Liberation Serif', serif" font-size="19.4" stroke="#000" stroke-width="0.25" dx="0.6" letter-spacing="1.6">J</tspan><tspan letter-spacing="0.33">D </tspan><tspan letter-spacing="-0.55">- </tspan><tspan letter-spacing="-0.62">2450000</tspan></text><text transform="translate(27.2 249.7) rotate(-90)" text-anchor="middle">I magnitude</text></g>
</svg></body></html>
